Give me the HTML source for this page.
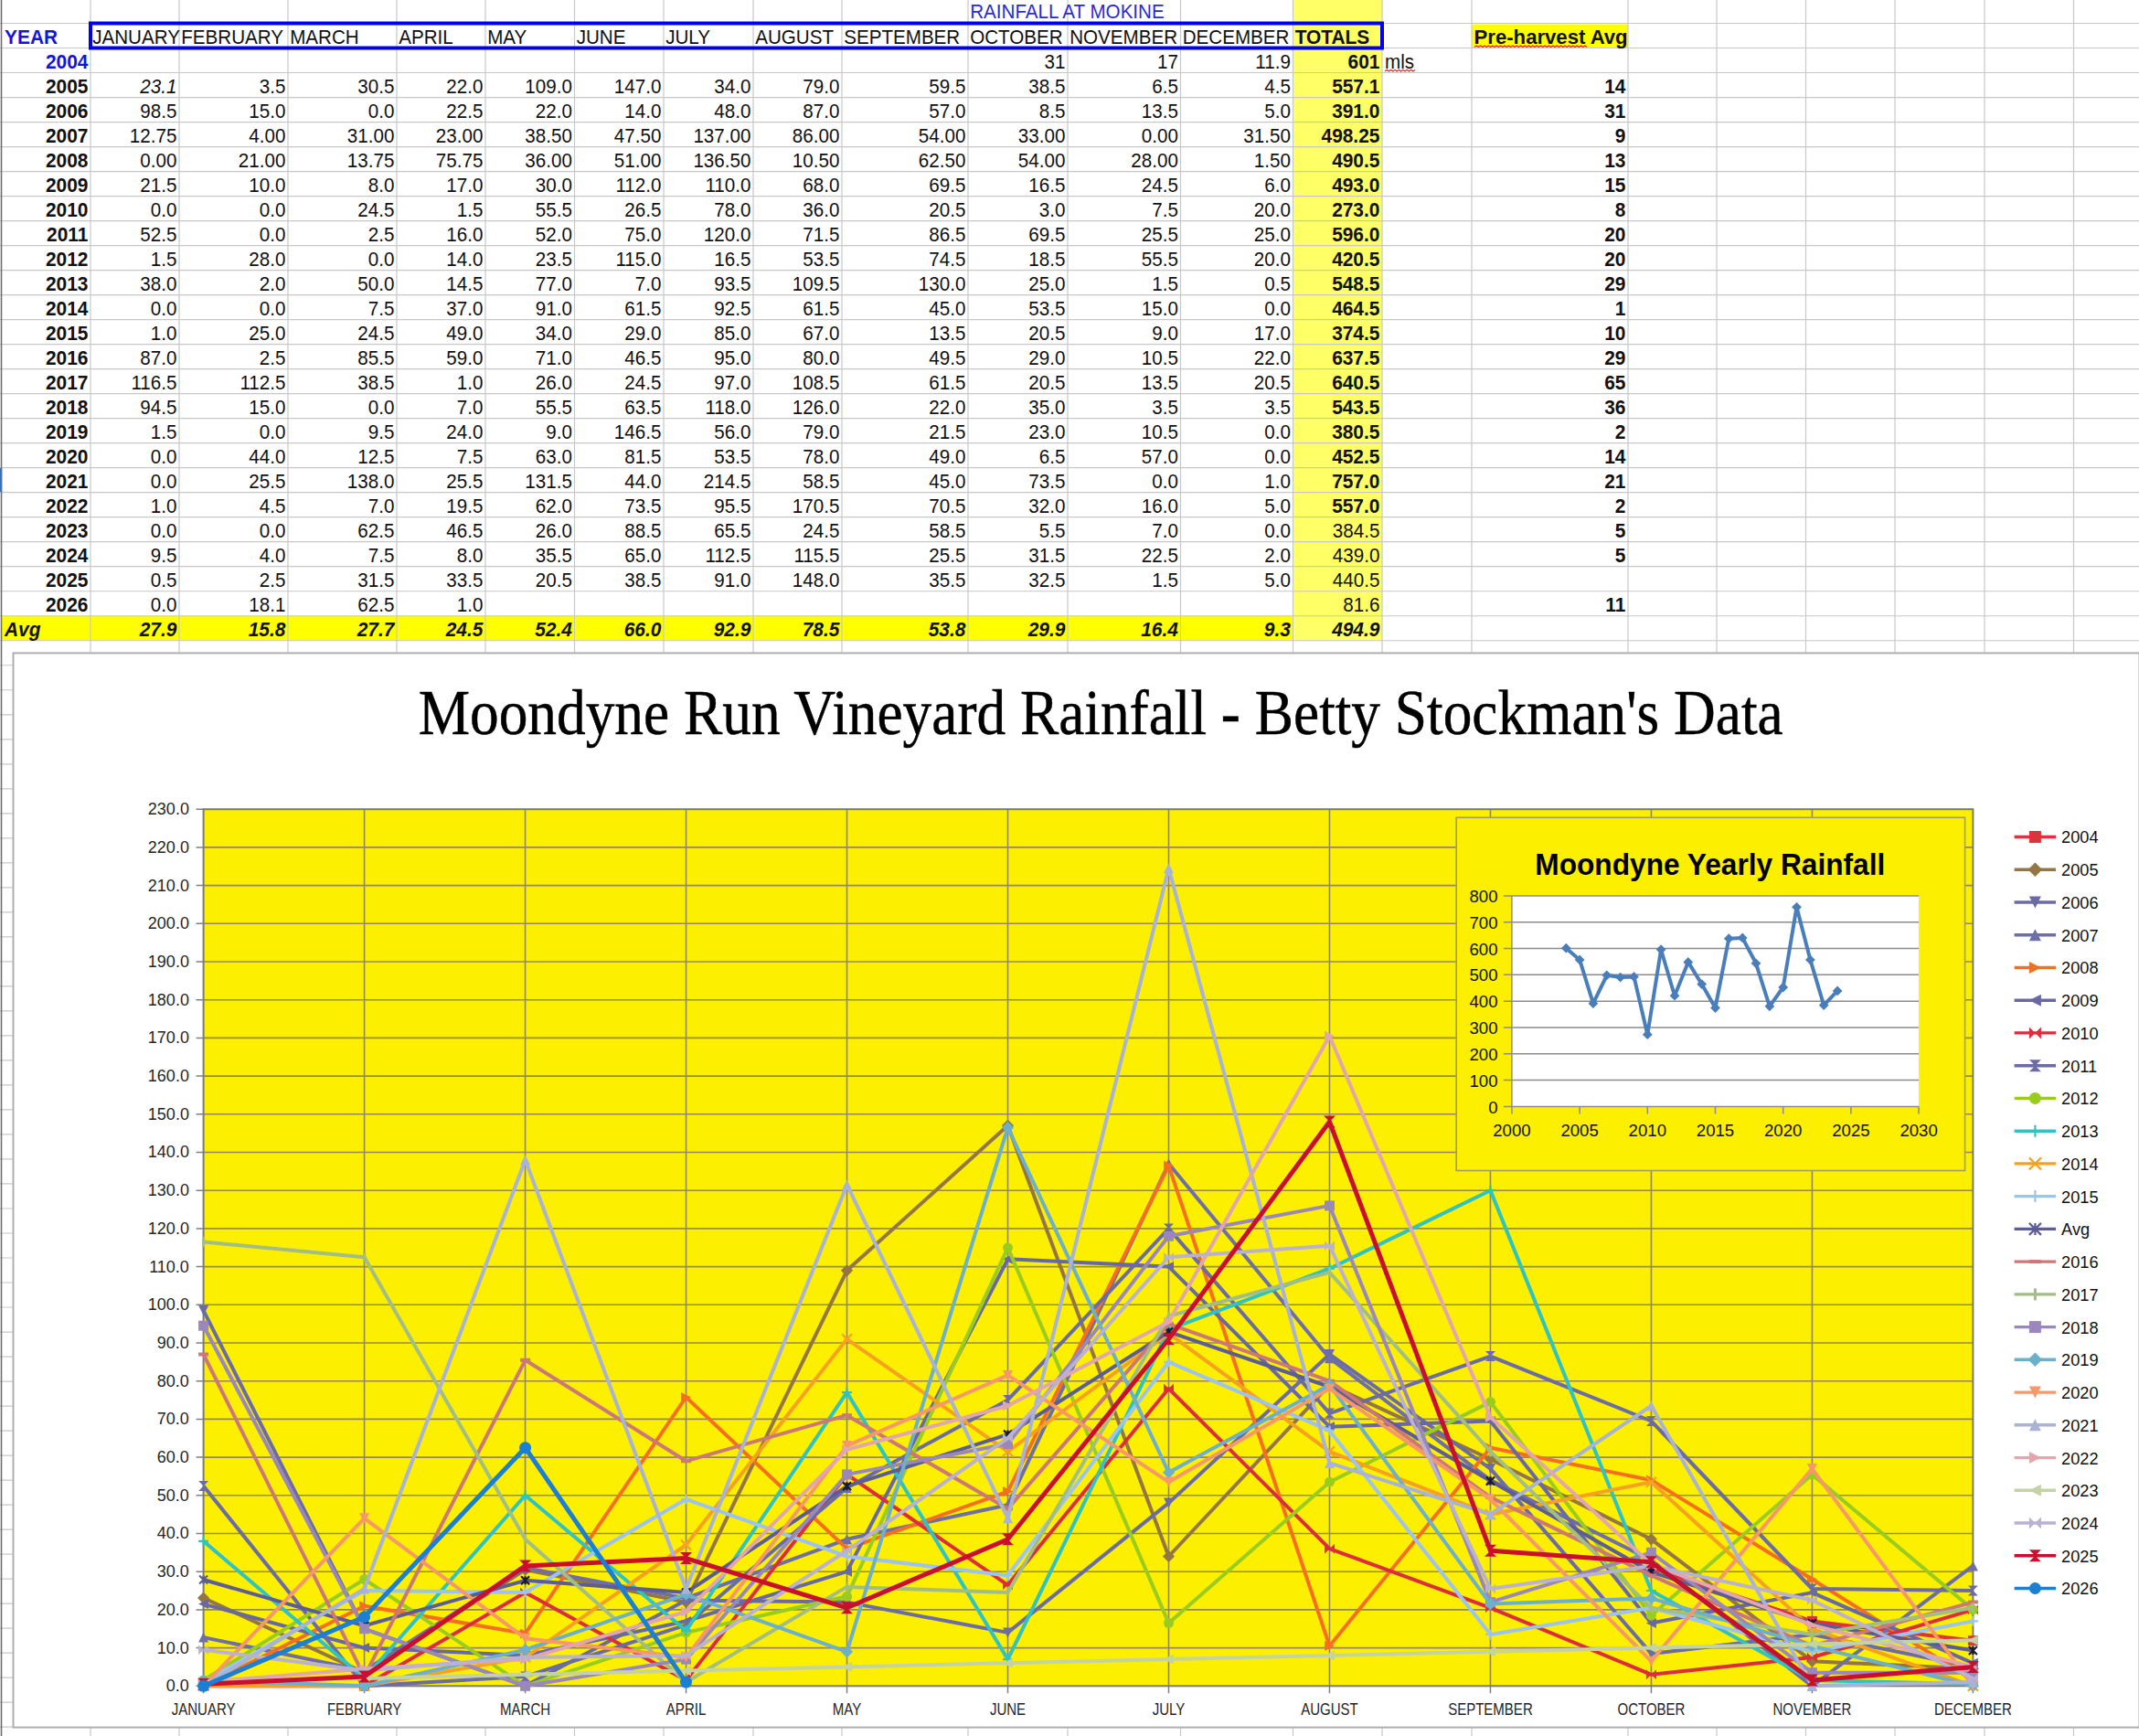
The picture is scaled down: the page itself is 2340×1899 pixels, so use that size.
<!DOCTYPE html>
<html><head><meta charset="utf-8"><title>Rainfall</title>
<style>html,body{margin:0;padding:0;background:#fff;width:2340px;height:1899px;overflow:hidden;position:relative}</style>
</head><body>
<svg width="2340" height="1899" viewBox="0 0 2340 1899" style="position:absolute;left:0;top:0">
<rect x="1414.5" y="0" width="97.5" height="700.75" fill="#ffff66"/>
<rect x="1.5" y="673.74" width="1413.0" height="27.01" fill="#ffff00"/>
<rect x="1610" y="26.5" width="171" height="26.01" fill="#ffff00"/>
<rect x="0" y="511.68" width="2.2" height="27.01" fill="#1a6fd8"/>
<path d="M0 25.50H2340 M0 52.51H2340 M0 79.52H2340 M0 106.53H2340 M0 133.54H2340 M0 160.55H2340 M0 187.56H2340 M0 214.57H2340 M0 241.58H2340 M0 268.59H2340 M0 295.60H2340 M0 322.61H2340 M0 349.62H2340 M0 376.63H2340 M0 403.64H2340 M0 430.65H2340 M0 457.66H2340 M0 484.67H2340 M0 511.68H2340 M0 538.69H2340 M0 565.70H2340 M0 592.71H2340 M0 619.72H2340 M0 646.73H2340 M0 673.74H2340 M0 700.75H2340 M0 727.76H2340 M0 754.77H2340 M0 781.78H2340 M0 808.79H2340 M0 835.80H2340 M0 862.81H2340 M0 889.82H2340 M0 916.83H2340 M0 943.84H2340 M0 970.85H2340 M0 997.86H2340 M0 1024.87H2340 M0 1051.88H2340 M0 1078.89H2340 M0 1105.90H2340 M0 1132.91H2340 M0 1159.92H2340 M0 1186.93H2340 M0 1213.94H2340 M0 1240.95H2340 M0 1267.96H2340 M0 1294.97H2340 M0 1321.98H2340 M0 1348.99H2340 M0 1376.00H2340 M0 1403.01H2340 M0 1430.02H2340 M0 1457.03H2340 M0 1484.04H2340 M0 1511.05H2340 M0 1538.06H2340 M0 1565.07H2340 M0 1592.08H2340 M0 1619.09H2340 M0 1646.10H2340 M0 1673.11H2340 M0 1700.12H2340 M0 1727.13H2340 M0 1754.14H2340 M0 1781.15H2340 M0 1808.16H2340 M0 1835.17H2340 M0 1862.18H2340 M0 1889.19H2340 M99 0V1899 M196 0V1899 M315 0V1899 M434 0V1899 M531 0V1899 M628.5 0V1899 M726 0V1899 M824 0V1899 M921 0V1899 M1059 0V1899 M1168 0V1899 M1291.5 0V1899 M1414.5 0V1899 M1512 0V1899 M1610 0V1899 M1781 0V1899 M1878 0V1899 M1975.5 0V1899 M2073 0V1899 M2171 0V1899 M2268.5 0V1899" stroke="#c8c8c8" stroke-width="1.2" fill="none"/>
<path d="M1.5 0V1899" stroke="#707070" stroke-width="1.6"/>
<g font-family='"Liberation Sans", sans-serif'>
<text transform="translate(1061.20,20.40) scale(1,1.07)" text-anchor="start" font-weight="normal" font-style="normal" fill="#2b2bd6" font-size="20.6" >RAINFALL AT MOKINE</text>
<text transform="translate(5.10,47.51) scale(1,1.07)" text-anchor="start" font-weight="bold" font-style="normal" fill="#1414e0" font-size="20.9" >YEAR</text>
<text transform="translate(101.20,47.51) scale(1,1.07)" text-anchor="start" font-weight="normal" font-style="normal" fill="#111" font-size="20.6" >JANUARY</text>
<text transform="translate(198.20,47.51) scale(1,1.07)" text-anchor="start" font-weight="normal" font-style="normal" fill="#111" font-size="20.6" >FEBRUARY</text>
<text transform="translate(317.20,47.51) scale(1,1.07)" text-anchor="start" font-weight="normal" font-style="normal" fill="#111" font-size="20.6" >MARCH</text>
<text transform="translate(436.20,47.51) scale(1,1.07)" text-anchor="start" font-weight="normal" font-style="normal" fill="#111" font-size="20.6" >APRIL</text>
<text transform="translate(533.20,47.51) scale(1,1.07)" text-anchor="start" font-weight="normal" font-style="normal" fill="#111" font-size="20.6" >MAY</text>
<text transform="translate(630.70,47.51) scale(1,1.07)" text-anchor="start" font-weight="normal" font-style="normal" fill="#111" font-size="20.6" >JUNE</text>
<text transform="translate(728.20,47.51) scale(1,1.07)" text-anchor="start" font-weight="normal" font-style="normal" fill="#111" font-size="20.6" >JULY</text>
<text transform="translate(826.20,47.51) scale(1,1.07)" text-anchor="start" font-weight="normal" font-style="normal" fill="#111" font-size="20.6" >AUGUST</text>
<text transform="translate(923.20,47.51) scale(1,1.07)" text-anchor="start" font-weight="normal" font-style="normal" fill="#111" font-size="20.6" >SEPTEMBER</text>
<text transform="translate(1061.20,47.51) scale(1,1.07)" text-anchor="start" font-weight="normal" font-style="normal" fill="#111" font-size="20.6" >OCTOBER</text>
<text transform="translate(1170.20,47.51) scale(1,1.07)" text-anchor="start" font-weight="normal" font-style="normal" fill="#111" font-size="20.6" >NOVEMBER</text>
<text transform="translate(1293.70,47.51) scale(1,1.07)" text-anchor="start" font-weight="normal" font-style="normal" fill="#111" font-size="20.6" >DECEMBER</text>
<text transform="translate(1416.70,47.51) scale(1,1.07)" text-anchor="start" font-weight="bold" font-style="normal" fill="#111" font-size="20.9" >TOTALS</text>
<text transform="translate(1612.60,47.51) scale(1,1.07)" text-anchor="start" font-weight="bold" font-style="normal" fill="#111" font-size="20.9" textLength="168" lengthAdjust="spacingAndGlyphs">Pre-harvest Avg</text>
<text transform="translate(96.40,74.52) scale(1,1.07)" text-anchor="end" font-weight="bold" font-style="normal" fill="#1414e0" font-size="20.9" >2004</text>
<text transform="translate(1165.40,74.52) scale(1,1.07)" text-anchor="end" font-weight="normal" font-style="normal" fill="#111" font-size="20.6" >31</text>
<text transform="translate(1288.90,74.52) scale(1,1.07)" text-anchor="end" font-weight="normal" font-style="normal" fill="#111" font-size="20.6" >17</text>
<text transform="translate(1411.90,74.52) scale(1,1.07)" text-anchor="end" font-weight="normal" font-style="normal" fill="#111" font-size="20.6" >11.9</text>
<text transform="translate(1509.40,74.52) scale(1,1.07)" text-anchor="end" font-weight="bold" font-style="normal" fill="#111" font-size="20.9" >601</text>
<text transform="translate(96.40,101.53) scale(1,1.07)" text-anchor="end" font-weight="bold" font-style="normal" fill="#111" font-size="20.9" >2005</text>
<text transform="translate(193.40,101.53) scale(1,1.07)" text-anchor="end" font-weight="normal" font-style="italic" fill="#111" font-size="20.6" >23.1</text>
<text transform="translate(312.40,101.53) scale(1,1.07)" text-anchor="end" font-weight="normal" font-style="normal" fill="#111" font-size="20.6" >3.5</text>
<text transform="translate(431.40,101.53) scale(1,1.07)" text-anchor="end" font-weight="normal" font-style="normal" fill="#111" font-size="20.6" >30.5</text>
<text transform="translate(528.40,101.53) scale(1,1.07)" text-anchor="end" font-weight="normal" font-style="normal" fill="#111" font-size="20.6" >22.0</text>
<text transform="translate(625.90,101.53) scale(1,1.07)" text-anchor="end" font-weight="normal" font-style="normal" fill="#111" font-size="20.6" >109.0</text>
<text transform="translate(723.40,101.53) scale(1,1.07)" text-anchor="end" font-weight="normal" font-style="normal" fill="#111" font-size="20.6" >147.0</text>
<text transform="translate(821.40,101.53) scale(1,1.07)" text-anchor="end" font-weight="normal" font-style="normal" fill="#111" font-size="20.6" >34.0</text>
<text transform="translate(918.40,101.53) scale(1,1.07)" text-anchor="end" font-weight="normal" font-style="normal" fill="#111" font-size="20.6" >79.0</text>
<text transform="translate(1056.40,101.53) scale(1,1.07)" text-anchor="end" font-weight="normal" font-style="normal" fill="#111" font-size="20.6" >59.5</text>
<text transform="translate(1165.40,101.53) scale(1,1.07)" text-anchor="end" font-weight="normal" font-style="normal" fill="#111" font-size="20.6" >38.5</text>
<text transform="translate(1288.90,101.53) scale(1,1.07)" text-anchor="end" font-weight="normal" font-style="normal" fill="#111" font-size="20.6" >6.5</text>
<text transform="translate(1411.90,101.53) scale(1,1.07)" text-anchor="end" font-weight="normal" font-style="normal" fill="#111" font-size="20.6" >4.5</text>
<text transform="translate(1509.40,101.53) scale(1,1.07)" text-anchor="end" font-weight="bold" font-style="normal" fill="#111" font-size="20.9" >557.1</text>
<text transform="translate(1778.40,101.53) scale(1,1.07)" text-anchor="end" font-weight="bold" font-style="normal" fill="#111" font-size="20.9" >14</text>
<text transform="translate(96.40,128.54) scale(1,1.07)" text-anchor="end" font-weight="bold" font-style="normal" fill="#111" font-size="20.9" >2006</text>
<text transform="translate(193.40,128.54) scale(1,1.07)" text-anchor="end" font-weight="normal" font-style="normal" fill="#111" font-size="20.6" >98.5</text>
<text transform="translate(312.40,128.54) scale(1,1.07)" text-anchor="end" font-weight="normal" font-style="normal" fill="#111" font-size="20.6" >15.0</text>
<text transform="translate(431.40,128.54) scale(1,1.07)" text-anchor="end" font-weight="normal" font-style="normal" fill="#111" font-size="20.6" >0.0</text>
<text transform="translate(528.40,128.54) scale(1,1.07)" text-anchor="end" font-weight="normal" font-style="normal" fill="#111" font-size="20.6" >22.5</text>
<text transform="translate(625.90,128.54) scale(1,1.07)" text-anchor="end" font-weight="normal" font-style="normal" fill="#111" font-size="20.6" >22.0</text>
<text transform="translate(723.40,128.54) scale(1,1.07)" text-anchor="end" font-weight="normal" font-style="normal" fill="#111" font-size="20.6" >14.0</text>
<text transform="translate(821.40,128.54) scale(1,1.07)" text-anchor="end" font-weight="normal" font-style="normal" fill="#111" font-size="20.6" >48.0</text>
<text transform="translate(918.40,128.54) scale(1,1.07)" text-anchor="end" font-weight="normal" font-style="normal" fill="#111" font-size="20.6" >87.0</text>
<text transform="translate(1056.40,128.54) scale(1,1.07)" text-anchor="end" font-weight="normal" font-style="normal" fill="#111" font-size="20.6" >57.0</text>
<text transform="translate(1165.40,128.54) scale(1,1.07)" text-anchor="end" font-weight="normal" font-style="normal" fill="#111" font-size="20.6" >8.5</text>
<text transform="translate(1288.90,128.54) scale(1,1.07)" text-anchor="end" font-weight="normal" font-style="normal" fill="#111" font-size="20.6" >13.5</text>
<text transform="translate(1411.90,128.54) scale(1,1.07)" text-anchor="end" font-weight="normal" font-style="normal" fill="#111" font-size="20.6" >5.0</text>
<text transform="translate(1509.40,128.54) scale(1,1.07)" text-anchor="end" font-weight="bold" font-style="normal" fill="#111" font-size="20.9" >391.0</text>
<text transform="translate(1778.40,128.54) scale(1,1.07)" text-anchor="end" font-weight="bold" font-style="normal" fill="#111" font-size="20.9" >31</text>
<text transform="translate(96.40,155.55) scale(1,1.07)" text-anchor="end" font-weight="bold" font-style="normal" fill="#111" font-size="20.9" >2007</text>
<text transform="translate(193.40,155.55) scale(1,1.07)" text-anchor="end" font-weight="normal" font-style="normal" fill="#111" font-size="20.6" >12.75</text>
<text transform="translate(312.40,155.55) scale(1,1.07)" text-anchor="end" font-weight="normal" font-style="normal" fill="#111" font-size="20.6" >4.00</text>
<text transform="translate(431.40,155.55) scale(1,1.07)" text-anchor="end" font-weight="normal" font-style="normal" fill="#111" font-size="20.6" >31.00</text>
<text transform="translate(528.40,155.55) scale(1,1.07)" text-anchor="end" font-weight="normal" font-style="normal" fill="#111" font-size="20.6" >23.00</text>
<text transform="translate(625.90,155.55) scale(1,1.07)" text-anchor="end" font-weight="normal" font-style="normal" fill="#111" font-size="20.6" >38.50</text>
<text transform="translate(723.40,155.55) scale(1,1.07)" text-anchor="end" font-weight="normal" font-style="normal" fill="#111" font-size="20.6" >47.50</text>
<text transform="translate(821.40,155.55) scale(1,1.07)" text-anchor="end" font-weight="normal" font-style="normal" fill="#111" font-size="20.6" >137.00</text>
<text transform="translate(918.40,155.55) scale(1,1.07)" text-anchor="end" font-weight="normal" font-style="normal" fill="#111" font-size="20.6" >86.00</text>
<text transform="translate(1056.40,155.55) scale(1,1.07)" text-anchor="end" font-weight="normal" font-style="normal" fill="#111" font-size="20.6" >54.00</text>
<text transform="translate(1165.40,155.55) scale(1,1.07)" text-anchor="end" font-weight="normal" font-style="normal" fill="#111" font-size="20.6" >33.00</text>
<text transform="translate(1288.90,155.55) scale(1,1.07)" text-anchor="end" font-weight="normal" font-style="normal" fill="#111" font-size="20.6" >0.00</text>
<text transform="translate(1411.90,155.55) scale(1,1.07)" text-anchor="end" font-weight="normal" font-style="normal" fill="#111" font-size="20.6" >31.50</text>
<text transform="translate(1509.40,155.55) scale(1,1.07)" text-anchor="end" font-weight="bold" font-style="normal" fill="#111" font-size="20.9" >498.25</text>
<text transform="translate(1778.40,155.55) scale(1,1.07)" text-anchor="end" font-weight="bold" font-style="normal" fill="#111" font-size="20.9" >9</text>
<text transform="translate(96.40,182.56) scale(1,1.07)" text-anchor="end" font-weight="bold" font-style="normal" fill="#111" font-size="20.9" >2008</text>
<text transform="translate(193.40,182.56) scale(1,1.07)" text-anchor="end" font-weight="normal" font-style="normal" fill="#111" font-size="20.6" >0.00</text>
<text transform="translate(312.40,182.56) scale(1,1.07)" text-anchor="end" font-weight="normal" font-style="normal" fill="#111" font-size="20.6" >21.00</text>
<text transform="translate(431.40,182.56) scale(1,1.07)" text-anchor="end" font-weight="normal" font-style="normal" fill="#111" font-size="20.6" >13.75</text>
<text transform="translate(528.40,182.56) scale(1,1.07)" text-anchor="end" font-weight="normal" font-style="normal" fill="#111" font-size="20.6" >75.75</text>
<text transform="translate(625.90,182.56) scale(1,1.07)" text-anchor="end" font-weight="normal" font-style="normal" fill="#111" font-size="20.6" >36.00</text>
<text transform="translate(723.40,182.56) scale(1,1.07)" text-anchor="end" font-weight="normal" font-style="normal" fill="#111" font-size="20.6" >51.00</text>
<text transform="translate(821.40,182.56) scale(1,1.07)" text-anchor="end" font-weight="normal" font-style="normal" fill="#111" font-size="20.6" >136.50</text>
<text transform="translate(918.40,182.56) scale(1,1.07)" text-anchor="end" font-weight="normal" font-style="normal" fill="#111" font-size="20.6" >10.50</text>
<text transform="translate(1056.40,182.56) scale(1,1.07)" text-anchor="end" font-weight="normal" font-style="normal" fill="#111" font-size="20.6" >62.50</text>
<text transform="translate(1165.40,182.56) scale(1,1.07)" text-anchor="end" font-weight="normal" font-style="normal" fill="#111" font-size="20.6" >54.00</text>
<text transform="translate(1288.90,182.56) scale(1,1.07)" text-anchor="end" font-weight="normal" font-style="normal" fill="#111" font-size="20.6" >28.00</text>
<text transform="translate(1411.90,182.56) scale(1,1.07)" text-anchor="end" font-weight="normal" font-style="normal" fill="#111" font-size="20.6" >1.50</text>
<text transform="translate(1509.40,182.56) scale(1,1.07)" text-anchor="end" font-weight="bold" font-style="normal" fill="#111" font-size="20.9" >490.5</text>
<text transform="translate(1778.40,182.56) scale(1,1.07)" text-anchor="end" font-weight="bold" font-style="normal" fill="#111" font-size="20.9" >13</text>
<text transform="translate(96.40,209.57) scale(1,1.07)" text-anchor="end" font-weight="bold" font-style="normal" fill="#111" font-size="20.9" >2009</text>
<text transform="translate(193.40,209.57) scale(1,1.07)" text-anchor="end" font-weight="normal" font-style="normal" fill="#111" font-size="20.6" >21.5</text>
<text transform="translate(312.40,209.57) scale(1,1.07)" text-anchor="end" font-weight="normal" font-style="normal" fill="#111" font-size="20.6" >10.0</text>
<text transform="translate(431.40,209.57) scale(1,1.07)" text-anchor="end" font-weight="normal" font-style="normal" fill="#111" font-size="20.6" >8.0</text>
<text transform="translate(528.40,209.57) scale(1,1.07)" text-anchor="end" font-weight="normal" font-style="normal" fill="#111" font-size="20.6" >17.0</text>
<text transform="translate(625.90,209.57) scale(1,1.07)" text-anchor="end" font-weight="normal" font-style="normal" fill="#111" font-size="20.6" >30.0</text>
<text transform="translate(723.40,209.57) scale(1,1.07)" text-anchor="end" font-weight="normal" font-style="normal" fill="#111" font-size="20.6" >112.0</text>
<text transform="translate(821.40,209.57) scale(1,1.07)" text-anchor="end" font-weight="normal" font-style="normal" fill="#111" font-size="20.6" >110.0</text>
<text transform="translate(918.40,209.57) scale(1,1.07)" text-anchor="end" font-weight="normal" font-style="normal" fill="#111" font-size="20.6" >68.0</text>
<text transform="translate(1056.40,209.57) scale(1,1.07)" text-anchor="end" font-weight="normal" font-style="normal" fill="#111" font-size="20.6" >69.5</text>
<text transform="translate(1165.40,209.57) scale(1,1.07)" text-anchor="end" font-weight="normal" font-style="normal" fill="#111" font-size="20.6" >16.5</text>
<text transform="translate(1288.90,209.57) scale(1,1.07)" text-anchor="end" font-weight="normal" font-style="normal" fill="#111" font-size="20.6" >24.5</text>
<text transform="translate(1411.90,209.57) scale(1,1.07)" text-anchor="end" font-weight="normal" font-style="normal" fill="#111" font-size="20.6" >6.0</text>
<text transform="translate(1509.40,209.57) scale(1,1.07)" text-anchor="end" font-weight="bold" font-style="normal" fill="#111" font-size="20.9" >493.0</text>
<text transform="translate(1778.40,209.57) scale(1,1.07)" text-anchor="end" font-weight="bold" font-style="normal" fill="#111" font-size="20.9" >15</text>
<text transform="translate(96.40,236.58) scale(1,1.07)" text-anchor="end" font-weight="bold" font-style="normal" fill="#111" font-size="20.9" >2010</text>
<text transform="translate(193.40,236.58) scale(1,1.07)" text-anchor="end" font-weight="normal" font-style="normal" fill="#111" font-size="20.6" >0.0</text>
<text transform="translate(312.40,236.58) scale(1,1.07)" text-anchor="end" font-weight="normal" font-style="normal" fill="#111" font-size="20.6" >0.0</text>
<text transform="translate(431.40,236.58) scale(1,1.07)" text-anchor="end" font-weight="normal" font-style="normal" fill="#111" font-size="20.6" >24.5</text>
<text transform="translate(528.40,236.58) scale(1,1.07)" text-anchor="end" font-weight="normal" font-style="normal" fill="#111" font-size="20.6" >1.5</text>
<text transform="translate(625.90,236.58) scale(1,1.07)" text-anchor="end" font-weight="normal" font-style="normal" fill="#111" font-size="20.6" >55.5</text>
<text transform="translate(723.40,236.58) scale(1,1.07)" text-anchor="end" font-weight="normal" font-style="normal" fill="#111" font-size="20.6" >26.5</text>
<text transform="translate(821.40,236.58) scale(1,1.07)" text-anchor="end" font-weight="normal" font-style="normal" fill="#111" font-size="20.6" >78.0</text>
<text transform="translate(918.40,236.58) scale(1,1.07)" text-anchor="end" font-weight="normal" font-style="normal" fill="#111" font-size="20.6" >36.0</text>
<text transform="translate(1056.40,236.58) scale(1,1.07)" text-anchor="end" font-weight="normal" font-style="normal" fill="#111" font-size="20.6" >20.5</text>
<text transform="translate(1165.40,236.58) scale(1,1.07)" text-anchor="end" font-weight="normal" font-style="normal" fill="#111" font-size="20.6" >3.0</text>
<text transform="translate(1288.90,236.58) scale(1,1.07)" text-anchor="end" font-weight="normal" font-style="normal" fill="#111" font-size="20.6" >7.5</text>
<text transform="translate(1411.90,236.58) scale(1,1.07)" text-anchor="end" font-weight="normal" font-style="normal" fill="#111" font-size="20.6" >20.0</text>
<text transform="translate(1509.40,236.58) scale(1,1.07)" text-anchor="end" font-weight="bold" font-style="normal" fill="#111" font-size="20.9" >273.0</text>
<text transform="translate(1778.40,236.58) scale(1,1.07)" text-anchor="end" font-weight="bold" font-style="normal" fill="#111" font-size="20.9" >8</text>
<text transform="translate(96.40,263.59) scale(1,1.07)" text-anchor="end" font-weight="bold" font-style="normal" fill="#111" font-size="20.9" >2011</text>
<text transform="translate(193.40,263.59) scale(1,1.07)" text-anchor="end" font-weight="normal" font-style="normal" fill="#111" font-size="20.6" >52.5</text>
<text transform="translate(312.40,263.59) scale(1,1.07)" text-anchor="end" font-weight="normal" font-style="normal" fill="#111" font-size="20.6" >0.0</text>
<text transform="translate(431.40,263.59) scale(1,1.07)" text-anchor="end" font-weight="normal" font-style="normal" fill="#111" font-size="20.6" >2.5</text>
<text transform="translate(528.40,263.59) scale(1,1.07)" text-anchor="end" font-weight="normal" font-style="normal" fill="#111" font-size="20.6" >16.0</text>
<text transform="translate(625.90,263.59) scale(1,1.07)" text-anchor="end" font-weight="normal" font-style="normal" fill="#111" font-size="20.6" >52.0</text>
<text transform="translate(723.40,263.59) scale(1,1.07)" text-anchor="end" font-weight="normal" font-style="normal" fill="#111" font-size="20.6" >75.0</text>
<text transform="translate(821.40,263.59) scale(1,1.07)" text-anchor="end" font-weight="normal" font-style="normal" fill="#111" font-size="20.6" >120.0</text>
<text transform="translate(918.40,263.59) scale(1,1.07)" text-anchor="end" font-weight="normal" font-style="normal" fill="#111" font-size="20.6" >71.5</text>
<text transform="translate(1056.40,263.59) scale(1,1.07)" text-anchor="end" font-weight="normal" font-style="normal" fill="#111" font-size="20.6" >86.5</text>
<text transform="translate(1165.40,263.59) scale(1,1.07)" text-anchor="end" font-weight="normal" font-style="normal" fill="#111" font-size="20.6" >69.5</text>
<text transform="translate(1288.90,263.59) scale(1,1.07)" text-anchor="end" font-weight="normal" font-style="normal" fill="#111" font-size="20.6" >25.5</text>
<text transform="translate(1411.90,263.59) scale(1,1.07)" text-anchor="end" font-weight="normal" font-style="normal" fill="#111" font-size="20.6" >25.0</text>
<text transform="translate(1509.40,263.59) scale(1,1.07)" text-anchor="end" font-weight="bold" font-style="normal" fill="#111" font-size="20.9" >596.0</text>
<text transform="translate(1778.40,263.59) scale(1,1.07)" text-anchor="end" font-weight="bold" font-style="normal" fill="#111" font-size="20.9" >20</text>
<text transform="translate(96.40,290.60) scale(1,1.07)" text-anchor="end" font-weight="bold" font-style="normal" fill="#111" font-size="20.9" >2012</text>
<text transform="translate(193.40,290.60) scale(1,1.07)" text-anchor="end" font-weight="normal" font-style="normal" fill="#111" font-size="20.6" >1.5</text>
<text transform="translate(312.40,290.60) scale(1,1.07)" text-anchor="end" font-weight="normal" font-style="normal" fill="#111" font-size="20.6" >28.0</text>
<text transform="translate(431.40,290.60) scale(1,1.07)" text-anchor="end" font-weight="normal" font-style="normal" fill="#111" font-size="20.6" >0.0</text>
<text transform="translate(528.40,290.60) scale(1,1.07)" text-anchor="end" font-weight="normal" font-style="normal" fill="#111" font-size="20.6" >14.0</text>
<text transform="translate(625.90,290.60) scale(1,1.07)" text-anchor="end" font-weight="normal" font-style="normal" fill="#111" font-size="20.6" >23.5</text>
<text transform="translate(723.40,290.60) scale(1,1.07)" text-anchor="end" font-weight="normal" font-style="normal" fill="#111" font-size="20.6" >115.0</text>
<text transform="translate(821.40,290.60) scale(1,1.07)" text-anchor="end" font-weight="normal" font-style="normal" fill="#111" font-size="20.6" >16.5</text>
<text transform="translate(918.40,290.60) scale(1,1.07)" text-anchor="end" font-weight="normal" font-style="normal" fill="#111" font-size="20.6" >53.5</text>
<text transform="translate(1056.40,290.60) scale(1,1.07)" text-anchor="end" font-weight="normal" font-style="normal" fill="#111" font-size="20.6" >74.5</text>
<text transform="translate(1165.40,290.60) scale(1,1.07)" text-anchor="end" font-weight="normal" font-style="normal" fill="#111" font-size="20.6" >18.5</text>
<text transform="translate(1288.90,290.60) scale(1,1.07)" text-anchor="end" font-weight="normal" font-style="normal" fill="#111" font-size="20.6" >55.5</text>
<text transform="translate(1411.90,290.60) scale(1,1.07)" text-anchor="end" font-weight="normal" font-style="normal" fill="#111" font-size="20.6" >20.0</text>
<text transform="translate(1509.40,290.60) scale(1,1.07)" text-anchor="end" font-weight="bold" font-style="normal" fill="#111" font-size="20.9" >420.5</text>
<text transform="translate(1778.40,290.60) scale(1,1.07)" text-anchor="end" font-weight="bold" font-style="normal" fill="#111" font-size="20.9" >20</text>
<text transform="translate(96.40,317.61) scale(1,1.07)" text-anchor="end" font-weight="bold" font-style="normal" fill="#111" font-size="20.9" >2013</text>
<text transform="translate(193.40,317.61) scale(1,1.07)" text-anchor="end" font-weight="normal" font-style="normal" fill="#111" font-size="20.6" >38.0</text>
<text transform="translate(312.40,317.61) scale(1,1.07)" text-anchor="end" font-weight="normal" font-style="normal" fill="#111" font-size="20.6" >2.0</text>
<text transform="translate(431.40,317.61) scale(1,1.07)" text-anchor="end" font-weight="normal" font-style="normal" fill="#111" font-size="20.6" >50.0</text>
<text transform="translate(528.40,317.61) scale(1,1.07)" text-anchor="end" font-weight="normal" font-style="normal" fill="#111" font-size="20.6" >14.5</text>
<text transform="translate(625.90,317.61) scale(1,1.07)" text-anchor="end" font-weight="normal" font-style="normal" fill="#111" font-size="20.6" >77.0</text>
<text transform="translate(723.40,317.61) scale(1,1.07)" text-anchor="end" font-weight="normal" font-style="normal" fill="#111" font-size="20.6" >7.0</text>
<text transform="translate(821.40,317.61) scale(1,1.07)" text-anchor="end" font-weight="normal" font-style="normal" fill="#111" font-size="20.6" >93.5</text>
<text transform="translate(918.40,317.61) scale(1,1.07)" text-anchor="end" font-weight="normal" font-style="normal" fill="#111" font-size="20.6" >109.5</text>
<text transform="translate(1056.40,317.61) scale(1,1.07)" text-anchor="end" font-weight="normal" font-style="normal" fill="#111" font-size="20.6" >130.0</text>
<text transform="translate(1165.40,317.61) scale(1,1.07)" text-anchor="end" font-weight="normal" font-style="normal" fill="#111" font-size="20.6" >25.0</text>
<text transform="translate(1288.90,317.61) scale(1,1.07)" text-anchor="end" font-weight="normal" font-style="normal" fill="#111" font-size="20.6" >1.5</text>
<text transform="translate(1411.90,317.61) scale(1,1.07)" text-anchor="end" font-weight="normal" font-style="normal" fill="#111" font-size="20.6" >0.5</text>
<text transform="translate(1509.40,317.61) scale(1,1.07)" text-anchor="end" font-weight="bold" font-style="normal" fill="#111" font-size="20.9" >548.5</text>
<text transform="translate(1778.40,317.61) scale(1,1.07)" text-anchor="end" font-weight="bold" font-style="normal" fill="#111" font-size="20.9" >29</text>
<text transform="translate(96.40,344.62) scale(1,1.07)" text-anchor="end" font-weight="bold" font-style="normal" fill="#111" font-size="20.9" >2014</text>
<text transform="translate(193.40,344.62) scale(1,1.07)" text-anchor="end" font-weight="normal" font-style="normal" fill="#111" font-size="20.6" >0.0</text>
<text transform="translate(312.40,344.62) scale(1,1.07)" text-anchor="end" font-weight="normal" font-style="normal" fill="#111" font-size="20.6" >0.0</text>
<text transform="translate(431.40,344.62) scale(1,1.07)" text-anchor="end" font-weight="normal" font-style="normal" fill="#111" font-size="20.6" >7.5</text>
<text transform="translate(528.40,344.62) scale(1,1.07)" text-anchor="end" font-weight="normal" font-style="normal" fill="#111" font-size="20.6" >37.0</text>
<text transform="translate(625.90,344.62) scale(1,1.07)" text-anchor="end" font-weight="normal" font-style="normal" fill="#111" font-size="20.6" >91.0</text>
<text transform="translate(723.40,344.62) scale(1,1.07)" text-anchor="end" font-weight="normal" font-style="normal" fill="#111" font-size="20.6" >61.5</text>
<text transform="translate(821.40,344.62) scale(1,1.07)" text-anchor="end" font-weight="normal" font-style="normal" fill="#111" font-size="20.6" >92.5</text>
<text transform="translate(918.40,344.62) scale(1,1.07)" text-anchor="end" font-weight="normal" font-style="normal" fill="#111" font-size="20.6" >61.5</text>
<text transform="translate(1056.40,344.62) scale(1,1.07)" text-anchor="end" font-weight="normal" font-style="normal" fill="#111" font-size="20.6" >45.0</text>
<text transform="translate(1165.40,344.62) scale(1,1.07)" text-anchor="end" font-weight="normal" font-style="normal" fill="#111" font-size="20.6" >53.5</text>
<text transform="translate(1288.90,344.62) scale(1,1.07)" text-anchor="end" font-weight="normal" font-style="normal" fill="#111" font-size="20.6" >15.0</text>
<text transform="translate(1411.90,344.62) scale(1,1.07)" text-anchor="end" font-weight="normal" font-style="normal" fill="#111" font-size="20.6" >0.0</text>
<text transform="translate(1509.40,344.62) scale(1,1.07)" text-anchor="end" font-weight="bold" font-style="normal" fill="#111" font-size="20.9" >464.5</text>
<text transform="translate(1778.40,344.62) scale(1,1.07)" text-anchor="end" font-weight="bold" font-style="normal" fill="#111" font-size="20.9" >1</text>
<text transform="translate(96.40,371.63) scale(1,1.07)" text-anchor="end" font-weight="bold" font-style="normal" fill="#111" font-size="20.9" >2015</text>
<text transform="translate(193.40,371.63) scale(1,1.07)" text-anchor="end" font-weight="normal" font-style="normal" fill="#111" font-size="20.6" >1.0</text>
<text transform="translate(312.40,371.63) scale(1,1.07)" text-anchor="end" font-weight="normal" font-style="normal" fill="#111" font-size="20.6" >25.0</text>
<text transform="translate(431.40,371.63) scale(1,1.07)" text-anchor="end" font-weight="normal" font-style="normal" fill="#111" font-size="20.6" >24.5</text>
<text transform="translate(528.40,371.63) scale(1,1.07)" text-anchor="end" font-weight="normal" font-style="normal" fill="#111" font-size="20.6" >49.0</text>
<text transform="translate(625.90,371.63) scale(1,1.07)" text-anchor="end" font-weight="normal" font-style="normal" fill="#111" font-size="20.6" >34.0</text>
<text transform="translate(723.40,371.63) scale(1,1.07)" text-anchor="end" font-weight="normal" font-style="normal" fill="#111" font-size="20.6" >29.0</text>
<text transform="translate(821.40,371.63) scale(1,1.07)" text-anchor="end" font-weight="normal" font-style="normal" fill="#111" font-size="20.6" >85.0</text>
<text transform="translate(918.40,371.63) scale(1,1.07)" text-anchor="end" font-weight="normal" font-style="normal" fill="#111" font-size="20.6" >67.0</text>
<text transform="translate(1056.40,371.63) scale(1,1.07)" text-anchor="end" font-weight="normal" font-style="normal" fill="#111" font-size="20.6" >13.5</text>
<text transform="translate(1165.40,371.63) scale(1,1.07)" text-anchor="end" font-weight="normal" font-style="normal" fill="#111" font-size="20.6" >20.5</text>
<text transform="translate(1288.90,371.63) scale(1,1.07)" text-anchor="end" font-weight="normal" font-style="normal" fill="#111" font-size="20.6" >9.0</text>
<text transform="translate(1411.90,371.63) scale(1,1.07)" text-anchor="end" font-weight="normal" font-style="normal" fill="#111" font-size="20.6" >17.0</text>
<text transform="translate(1509.40,371.63) scale(1,1.07)" text-anchor="end" font-weight="bold" font-style="normal" fill="#111" font-size="20.9" >374.5</text>
<text transform="translate(1778.40,371.63) scale(1,1.07)" text-anchor="end" font-weight="bold" font-style="normal" fill="#111" font-size="20.9" >10</text>
<text transform="translate(96.40,398.64) scale(1,1.07)" text-anchor="end" font-weight="bold" font-style="normal" fill="#111" font-size="20.9" >2016</text>
<text transform="translate(193.40,398.64) scale(1,1.07)" text-anchor="end" font-weight="normal" font-style="normal" fill="#111" font-size="20.6" >87.0</text>
<text transform="translate(312.40,398.64) scale(1,1.07)" text-anchor="end" font-weight="normal" font-style="normal" fill="#111" font-size="20.6" >2.5</text>
<text transform="translate(431.40,398.64) scale(1,1.07)" text-anchor="end" font-weight="normal" font-style="normal" fill="#111" font-size="20.6" >85.5</text>
<text transform="translate(528.40,398.64) scale(1,1.07)" text-anchor="end" font-weight="normal" font-style="normal" fill="#111" font-size="20.6" >59.0</text>
<text transform="translate(625.90,398.64) scale(1,1.07)" text-anchor="end" font-weight="normal" font-style="normal" fill="#111" font-size="20.6" >71.0</text>
<text transform="translate(723.40,398.64) scale(1,1.07)" text-anchor="end" font-weight="normal" font-style="normal" fill="#111" font-size="20.6" >46.5</text>
<text transform="translate(821.40,398.64) scale(1,1.07)" text-anchor="end" font-weight="normal" font-style="normal" fill="#111" font-size="20.6" >95.0</text>
<text transform="translate(918.40,398.64) scale(1,1.07)" text-anchor="end" font-weight="normal" font-style="normal" fill="#111" font-size="20.6" >80.0</text>
<text transform="translate(1056.40,398.64) scale(1,1.07)" text-anchor="end" font-weight="normal" font-style="normal" fill="#111" font-size="20.6" >49.5</text>
<text transform="translate(1165.40,398.64) scale(1,1.07)" text-anchor="end" font-weight="normal" font-style="normal" fill="#111" font-size="20.6" >29.0</text>
<text transform="translate(1288.90,398.64) scale(1,1.07)" text-anchor="end" font-weight="normal" font-style="normal" fill="#111" font-size="20.6" >10.5</text>
<text transform="translate(1411.90,398.64) scale(1,1.07)" text-anchor="end" font-weight="normal" font-style="normal" fill="#111" font-size="20.6" >22.0</text>
<text transform="translate(1509.40,398.64) scale(1,1.07)" text-anchor="end" font-weight="bold" font-style="normal" fill="#111" font-size="20.9" >637.5</text>
<text transform="translate(1778.40,398.64) scale(1,1.07)" text-anchor="end" font-weight="bold" font-style="normal" fill="#111" font-size="20.9" >29</text>
<text transform="translate(96.40,425.65) scale(1,1.07)" text-anchor="end" font-weight="bold" font-style="normal" fill="#111" font-size="20.9" >2017</text>
<text transform="translate(193.40,425.65) scale(1,1.07)" text-anchor="end" font-weight="normal" font-style="normal" fill="#111" font-size="20.6" >116.5</text>
<text transform="translate(312.40,425.65) scale(1,1.07)" text-anchor="end" font-weight="normal" font-style="normal" fill="#111" font-size="20.6" >112.5</text>
<text transform="translate(431.40,425.65) scale(1,1.07)" text-anchor="end" font-weight="normal" font-style="normal" fill="#111" font-size="20.6" >38.5</text>
<text transform="translate(528.40,425.65) scale(1,1.07)" text-anchor="end" font-weight="normal" font-style="normal" fill="#111" font-size="20.6" >1.0</text>
<text transform="translate(625.90,425.65) scale(1,1.07)" text-anchor="end" font-weight="normal" font-style="normal" fill="#111" font-size="20.6" >26.0</text>
<text transform="translate(723.40,425.65) scale(1,1.07)" text-anchor="end" font-weight="normal" font-style="normal" fill="#111" font-size="20.6" >24.5</text>
<text transform="translate(821.40,425.65) scale(1,1.07)" text-anchor="end" font-weight="normal" font-style="normal" fill="#111" font-size="20.6" >97.0</text>
<text transform="translate(918.40,425.65) scale(1,1.07)" text-anchor="end" font-weight="normal" font-style="normal" fill="#111" font-size="20.6" >108.5</text>
<text transform="translate(1056.40,425.65) scale(1,1.07)" text-anchor="end" font-weight="normal" font-style="normal" fill="#111" font-size="20.6" >61.5</text>
<text transform="translate(1165.40,425.65) scale(1,1.07)" text-anchor="end" font-weight="normal" font-style="normal" fill="#111" font-size="20.6" >20.5</text>
<text transform="translate(1288.90,425.65) scale(1,1.07)" text-anchor="end" font-weight="normal" font-style="normal" fill="#111" font-size="20.6" >13.5</text>
<text transform="translate(1411.90,425.65) scale(1,1.07)" text-anchor="end" font-weight="normal" font-style="normal" fill="#111" font-size="20.6" >20.5</text>
<text transform="translate(1509.40,425.65) scale(1,1.07)" text-anchor="end" font-weight="bold" font-style="normal" fill="#111" font-size="20.9" >640.5</text>
<text transform="translate(1778.40,425.65) scale(1,1.07)" text-anchor="end" font-weight="bold" font-style="normal" fill="#111" font-size="20.9" >65</text>
<text transform="translate(96.40,452.66) scale(1,1.07)" text-anchor="end" font-weight="bold" font-style="normal" fill="#111" font-size="20.9" >2018</text>
<text transform="translate(193.40,452.66) scale(1,1.07)" text-anchor="end" font-weight="normal" font-style="normal" fill="#111" font-size="20.6" >94.5</text>
<text transform="translate(312.40,452.66) scale(1,1.07)" text-anchor="end" font-weight="normal" font-style="normal" fill="#111" font-size="20.6" >15.0</text>
<text transform="translate(431.40,452.66) scale(1,1.07)" text-anchor="end" font-weight="normal" font-style="normal" fill="#111" font-size="20.6" >0.0</text>
<text transform="translate(528.40,452.66) scale(1,1.07)" text-anchor="end" font-weight="normal" font-style="normal" fill="#111" font-size="20.6" >7.0</text>
<text transform="translate(625.90,452.66) scale(1,1.07)" text-anchor="end" font-weight="normal" font-style="normal" fill="#111" font-size="20.6" >55.5</text>
<text transform="translate(723.40,452.66) scale(1,1.07)" text-anchor="end" font-weight="normal" font-style="normal" fill="#111" font-size="20.6" >63.5</text>
<text transform="translate(821.40,452.66) scale(1,1.07)" text-anchor="end" font-weight="normal" font-style="normal" fill="#111" font-size="20.6" >118.0</text>
<text transform="translate(918.40,452.66) scale(1,1.07)" text-anchor="end" font-weight="normal" font-style="normal" fill="#111" font-size="20.6" >126.0</text>
<text transform="translate(1056.40,452.66) scale(1,1.07)" text-anchor="end" font-weight="normal" font-style="normal" fill="#111" font-size="20.6" >22.0</text>
<text transform="translate(1165.40,452.66) scale(1,1.07)" text-anchor="end" font-weight="normal" font-style="normal" fill="#111" font-size="20.6" >35.0</text>
<text transform="translate(1288.90,452.66) scale(1,1.07)" text-anchor="end" font-weight="normal" font-style="normal" fill="#111" font-size="20.6" >3.5</text>
<text transform="translate(1411.90,452.66) scale(1,1.07)" text-anchor="end" font-weight="normal" font-style="normal" fill="#111" font-size="20.6" >3.5</text>
<text transform="translate(1509.40,452.66) scale(1,1.07)" text-anchor="end" font-weight="bold" font-style="normal" fill="#111" font-size="20.9" >543.5</text>
<text transform="translate(1778.40,452.66) scale(1,1.07)" text-anchor="end" font-weight="bold" font-style="normal" fill="#111" font-size="20.9" >36</text>
<text transform="translate(96.40,479.67) scale(1,1.07)" text-anchor="end" font-weight="bold" font-style="normal" fill="#111" font-size="20.9" >2019</text>
<text transform="translate(193.40,479.67) scale(1,1.07)" text-anchor="end" font-weight="normal" font-style="normal" fill="#111" font-size="20.6" >1.5</text>
<text transform="translate(312.40,479.67) scale(1,1.07)" text-anchor="end" font-weight="normal" font-style="normal" fill="#111" font-size="20.6" >0.0</text>
<text transform="translate(431.40,479.67) scale(1,1.07)" text-anchor="end" font-weight="normal" font-style="normal" fill="#111" font-size="20.6" >9.5</text>
<text transform="translate(528.40,479.67) scale(1,1.07)" text-anchor="end" font-weight="normal" font-style="normal" fill="#111" font-size="20.6" >24.0</text>
<text transform="translate(625.90,479.67) scale(1,1.07)" text-anchor="end" font-weight="normal" font-style="normal" fill="#111" font-size="20.6" >9.0</text>
<text transform="translate(723.40,479.67) scale(1,1.07)" text-anchor="end" font-weight="normal" font-style="normal" fill="#111" font-size="20.6" >146.5</text>
<text transform="translate(821.40,479.67) scale(1,1.07)" text-anchor="end" font-weight="normal" font-style="normal" fill="#111" font-size="20.6" >56.0</text>
<text transform="translate(918.40,479.67) scale(1,1.07)" text-anchor="end" font-weight="normal" font-style="normal" fill="#111" font-size="20.6" >79.0</text>
<text transform="translate(1056.40,479.67) scale(1,1.07)" text-anchor="end" font-weight="normal" font-style="normal" fill="#111" font-size="20.6" >21.5</text>
<text transform="translate(1165.40,479.67) scale(1,1.07)" text-anchor="end" font-weight="normal" font-style="normal" fill="#111" font-size="20.6" >23.0</text>
<text transform="translate(1288.90,479.67) scale(1,1.07)" text-anchor="end" font-weight="normal" font-style="normal" fill="#111" font-size="20.6" >10.5</text>
<text transform="translate(1411.90,479.67) scale(1,1.07)" text-anchor="end" font-weight="normal" font-style="normal" fill="#111" font-size="20.6" >0.0</text>
<text transform="translate(1509.40,479.67) scale(1,1.07)" text-anchor="end" font-weight="bold" font-style="normal" fill="#111" font-size="20.9" >380.5</text>
<text transform="translate(1778.40,479.67) scale(1,1.07)" text-anchor="end" font-weight="bold" font-style="normal" fill="#111" font-size="20.9" >2</text>
<text transform="translate(96.40,506.68) scale(1,1.07)" text-anchor="end" font-weight="bold" font-style="normal" fill="#111" font-size="20.9" >2020</text>
<text transform="translate(193.40,506.68) scale(1,1.07)" text-anchor="end" font-weight="normal" font-style="normal" fill="#111" font-size="20.6" >0.0</text>
<text transform="translate(312.40,506.68) scale(1,1.07)" text-anchor="end" font-weight="normal" font-style="normal" fill="#111" font-size="20.6" >44.0</text>
<text transform="translate(431.40,506.68) scale(1,1.07)" text-anchor="end" font-weight="normal" font-style="normal" fill="#111" font-size="20.6" >12.5</text>
<text transform="translate(528.40,506.68) scale(1,1.07)" text-anchor="end" font-weight="normal" font-style="normal" fill="#111" font-size="20.6" >7.5</text>
<text transform="translate(625.90,506.68) scale(1,1.07)" text-anchor="end" font-weight="normal" font-style="normal" fill="#111" font-size="20.6" >63.0</text>
<text transform="translate(723.40,506.68) scale(1,1.07)" text-anchor="end" font-weight="normal" font-style="normal" fill="#111" font-size="20.6" >81.5</text>
<text transform="translate(821.40,506.68) scale(1,1.07)" text-anchor="end" font-weight="normal" font-style="normal" fill="#111" font-size="20.6" >53.5</text>
<text transform="translate(918.40,506.68) scale(1,1.07)" text-anchor="end" font-weight="normal" font-style="normal" fill="#111" font-size="20.6" >78.0</text>
<text transform="translate(1056.40,506.68) scale(1,1.07)" text-anchor="end" font-weight="normal" font-style="normal" fill="#111" font-size="20.6" >49.0</text>
<text transform="translate(1165.40,506.68) scale(1,1.07)" text-anchor="end" font-weight="normal" font-style="normal" fill="#111" font-size="20.6" >6.5</text>
<text transform="translate(1288.90,506.68) scale(1,1.07)" text-anchor="end" font-weight="normal" font-style="normal" fill="#111" font-size="20.6" >57.0</text>
<text transform="translate(1411.90,506.68) scale(1,1.07)" text-anchor="end" font-weight="normal" font-style="normal" fill="#111" font-size="20.6" >0.0</text>
<text transform="translate(1509.40,506.68) scale(1,1.07)" text-anchor="end" font-weight="bold" font-style="normal" fill="#111" font-size="20.9" >452.5</text>
<text transform="translate(1778.40,506.68) scale(1,1.07)" text-anchor="end" font-weight="bold" font-style="normal" fill="#111" font-size="20.9" >14</text>
<text transform="translate(96.40,533.69) scale(1,1.07)" text-anchor="end" font-weight="bold" font-style="normal" fill="#111" font-size="20.9" >2021</text>
<text transform="translate(193.40,533.69) scale(1,1.07)" text-anchor="end" font-weight="normal" font-style="normal" fill="#111" font-size="20.6" >0.0</text>
<text transform="translate(312.40,533.69) scale(1,1.07)" text-anchor="end" font-weight="normal" font-style="normal" fill="#111" font-size="20.6" >25.5</text>
<text transform="translate(431.40,533.69) scale(1,1.07)" text-anchor="end" font-weight="normal" font-style="normal" fill="#111" font-size="20.6" >138.0</text>
<text transform="translate(528.40,533.69) scale(1,1.07)" text-anchor="end" font-weight="normal" font-style="normal" fill="#111" font-size="20.6" >25.5</text>
<text transform="translate(625.90,533.69) scale(1,1.07)" text-anchor="end" font-weight="normal" font-style="normal" fill="#111" font-size="20.6" >131.5</text>
<text transform="translate(723.40,533.69) scale(1,1.07)" text-anchor="end" font-weight="normal" font-style="normal" fill="#111" font-size="20.6" >44.0</text>
<text transform="translate(821.40,533.69) scale(1,1.07)" text-anchor="end" font-weight="normal" font-style="normal" fill="#111" font-size="20.6" >214.5</text>
<text transform="translate(918.40,533.69) scale(1,1.07)" text-anchor="end" font-weight="normal" font-style="normal" fill="#111" font-size="20.6" >58.5</text>
<text transform="translate(1056.40,533.69) scale(1,1.07)" text-anchor="end" font-weight="normal" font-style="normal" fill="#111" font-size="20.6" >45.0</text>
<text transform="translate(1165.40,533.69) scale(1,1.07)" text-anchor="end" font-weight="normal" font-style="normal" fill="#111" font-size="20.6" >73.5</text>
<text transform="translate(1288.90,533.69) scale(1,1.07)" text-anchor="end" font-weight="normal" font-style="normal" fill="#111" font-size="20.6" >0.0</text>
<text transform="translate(1411.90,533.69) scale(1,1.07)" text-anchor="end" font-weight="normal" font-style="normal" fill="#111" font-size="20.6" >1.0</text>
<text transform="translate(1509.40,533.69) scale(1,1.07)" text-anchor="end" font-weight="bold" font-style="normal" fill="#111" font-size="20.9" >757.0</text>
<text transform="translate(1778.40,533.69) scale(1,1.07)" text-anchor="end" font-weight="bold" font-style="normal" fill="#111" font-size="20.9" >21</text>
<text transform="translate(96.40,560.70) scale(1,1.07)" text-anchor="end" font-weight="bold" font-style="normal" fill="#111" font-size="20.9" >2022</text>
<text transform="translate(193.40,560.70) scale(1,1.07)" text-anchor="end" font-weight="normal" font-style="normal" fill="#111" font-size="20.6" >1.0</text>
<text transform="translate(312.40,560.70) scale(1,1.07)" text-anchor="end" font-weight="normal" font-style="normal" fill="#111" font-size="20.6" >4.5</text>
<text transform="translate(431.40,560.70) scale(1,1.07)" text-anchor="end" font-weight="normal" font-style="normal" fill="#111" font-size="20.6" >7.0</text>
<text transform="translate(528.40,560.70) scale(1,1.07)" text-anchor="end" font-weight="normal" font-style="normal" fill="#111" font-size="20.6" >19.5</text>
<text transform="translate(625.90,560.70) scale(1,1.07)" text-anchor="end" font-weight="normal" font-style="normal" fill="#111" font-size="20.6" >62.0</text>
<text transform="translate(723.40,560.70) scale(1,1.07)" text-anchor="end" font-weight="normal" font-style="normal" fill="#111" font-size="20.6" >73.5</text>
<text transform="translate(821.40,560.70) scale(1,1.07)" text-anchor="end" font-weight="normal" font-style="normal" fill="#111" font-size="20.6" >95.5</text>
<text transform="translate(918.40,560.70) scale(1,1.07)" text-anchor="end" font-weight="normal" font-style="normal" fill="#111" font-size="20.6" >170.5</text>
<text transform="translate(1056.40,560.70) scale(1,1.07)" text-anchor="end" font-weight="normal" font-style="normal" fill="#111" font-size="20.6" >70.5</text>
<text transform="translate(1165.40,560.70) scale(1,1.07)" text-anchor="end" font-weight="normal" font-style="normal" fill="#111" font-size="20.6" >32.0</text>
<text transform="translate(1288.90,560.70) scale(1,1.07)" text-anchor="end" font-weight="normal" font-style="normal" fill="#111" font-size="20.6" >16.0</text>
<text transform="translate(1411.90,560.70) scale(1,1.07)" text-anchor="end" font-weight="normal" font-style="normal" fill="#111" font-size="20.6" >5.0</text>
<text transform="translate(1509.40,560.70) scale(1,1.07)" text-anchor="end" font-weight="bold" font-style="normal" fill="#111" font-size="20.9" >557.0</text>
<text transform="translate(1778.40,560.70) scale(1,1.07)" text-anchor="end" font-weight="bold" font-style="normal" fill="#111" font-size="20.9" >2</text>
<text transform="translate(96.40,587.71) scale(1,1.07)" text-anchor="end" font-weight="bold" font-style="normal" fill="#111" font-size="20.9" >2023</text>
<text transform="translate(193.40,587.71) scale(1,1.07)" text-anchor="end" font-weight="normal" font-style="normal" fill="#111" font-size="20.6" >0.0</text>
<text transform="translate(312.40,587.71) scale(1,1.07)" text-anchor="end" font-weight="normal" font-style="normal" fill="#111" font-size="20.6" >0.0</text>
<text transform="translate(431.40,587.71) scale(1,1.07)" text-anchor="end" font-weight="normal" font-style="normal" fill="#111" font-size="20.6" >62.5</text>
<text transform="translate(528.40,587.71) scale(1,1.07)" text-anchor="end" font-weight="normal" font-style="normal" fill="#111" font-size="20.6" >46.5</text>
<text transform="translate(625.90,587.71) scale(1,1.07)" text-anchor="end" font-weight="normal" font-style="normal" fill="#111" font-size="20.6" >26.0</text>
<text transform="translate(723.40,587.71) scale(1,1.07)" text-anchor="end" font-weight="normal" font-style="normal" fill="#111" font-size="20.6" >88.5</text>
<text transform="translate(821.40,587.71) scale(1,1.07)" text-anchor="end" font-weight="normal" font-style="normal" fill="#111" font-size="20.6" >65.5</text>
<text transform="translate(918.40,587.71) scale(1,1.07)" text-anchor="end" font-weight="normal" font-style="normal" fill="#111" font-size="20.6" >24.5</text>
<text transform="translate(1056.40,587.71) scale(1,1.07)" text-anchor="end" font-weight="normal" font-style="normal" fill="#111" font-size="20.6" >58.5</text>
<text transform="translate(1165.40,587.71) scale(1,1.07)" text-anchor="end" font-weight="normal" font-style="normal" fill="#111" font-size="20.6" >5.5</text>
<text transform="translate(1288.90,587.71) scale(1,1.07)" text-anchor="end" font-weight="normal" font-style="normal" fill="#111" font-size="20.6" >7.0</text>
<text transform="translate(1411.90,587.71) scale(1,1.07)" text-anchor="end" font-weight="normal" font-style="normal" fill="#111" font-size="20.6" >0.0</text>
<text transform="translate(1509.40,587.71) scale(1,1.07)" text-anchor="end" font-weight="normal" font-style="normal" fill="#111" font-size="20.6" >384.5</text>
<text transform="translate(1778.40,587.71) scale(1,1.07)" text-anchor="end" font-weight="bold" font-style="normal" fill="#111" font-size="20.9" >5</text>
<text transform="translate(96.40,614.72) scale(1,1.07)" text-anchor="end" font-weight="bold" font-style="normal" fill="#111" font-size="20.9" >2024</text>
<text transform="translate(193.40,614.72) scale(1,1.07)" text-anchor="end" font-weight="normal" font-style="normal" fill="#111" font-size="20.6" >9.5</text>
<text transform="translate(312.40,614.72) scale(1,1.07)" text-anchor="end" font-weight="normal" font-style="normal" fill="#111" font-size="20.6" >4.0</text>
<text transform="translate(431.40,614.72) scale(1,1.07)" text-anchor="end" font-weight="normal" font-style="normal" fill="#111" font-size="20.6" >7.5</text>
<text transform="translate(528.40,614.72) scale(1,1.07)" text-anchor="end" font-weight="normal" font-style="normal" fill="#111" font-size="20.6" >8.0</text>
<text transform="translate(625.90,614.72) scale(1,1.07)" text-anchor="end" font-weight="normal" font-style="normal" fill="#111" font-size="20.6" >35.5</text>
<text transform="translate(723.40,614.72) scale(1,1.07)" text-anchor="end" font-weight="normal" font-style="normal" fill="#111" font-size="20.6" >65.0</text>
<text transform="translate(821.40,614.72) scale(1,1.07)" text-anchor="end" font-weight="normal" font-style="normal" fill="#111" font-size="20.6" >112.5</text>
<text transform="translate(918.40,614.72) scale(1,1.07)" text-anchor="end" font-weight="normal" font-style="normal" fill="#111" font-size="20.6" >115.5</text>
<text transform="translate(1056.40,614.72) scale(1,1.07)" text-anchor="end" font-weight="normal" font-style="normal" fill="#111" font-size="20.6" >25.5</text>
<text transform="translate(1165.40,614.72) scale(1,1.07)" text-anchor="end" font-weight="normal" font-style="normal" fill="#111" font-size="20.6" >31.5</text>
<text transform="translate(1288.90,614.72) scale(1,1.07)" text-anchor="end" font-weight="normal" font-style="normal" fill="#111" font-size="20.6" >22.5</text>
<text transform="translate(1411.90,614.72) scale(1,1.07)" text-anchor="end" font-weight="normal" font-style="normal" fill="#111" font-size="20.6" >2.0</text>
<text transform="translate(1509.40,614.72) scale(1,1.07)" text-anchor="end" font-weight="normal" font-style="normal" fill="#111" font-size="20.6" >439.0</text>
<text transform="translate(1778.40,614.72) scale(1,1.07)" text-anchor="end" font-weight="bold" font-style="normal" fill="#111" font-size="20.9" >5</text>
<text transform="translate(96.40,641.73) scale(1,1.07)" text-anchor="end" font-weight="bold" font-style="normal" fill="#111" font-size="20.9" >2025</text>
<text transform="translate(193.40,641.73) scale(1,1.07)" text-anchor="end" font-weight="normal" font-style="normal" fill="#111" font-size="20.6" >0.5</text>
<text transform="translate(312.40,641.73) scale(1,1.07)" text-anchor="end" font-weight="normal" font-style="normal" fill="#111" font-size="20.6" >2.5</text>
<text transform="translate(431.40,641.73) scale(1,1.07)" text-anchor="end" font-weight="normal" font-style="normal" fill="#111" font-size="20.6" >31.5</text>
<text transform="translate(528.40,641.73) scale(1,1.07)" text-anchor="end" font-weight="normal" font-style="normal" fill="#111" font-size="20.6" >33.5</text>
<text transform="translate(625.90,641.73) scale(1,1.07)" text-anchor="end" font-weight="normal" font-style="normal" fill="#111" font-size="20.6" >20.5</text>
<text transform="translate(723.40,641.73) scale(1,1.07)" text-anchor="end" font-weight="normal" font-style="normal" fill="#111" font-size="20.6" >38.5</text>
<text transform="translate(821.40,641.73) scale(1,1.07)" text-anchor="end" font-weight="normal" font-style="normal" fill="#111" font-size="20.6" >91.0</text>
<text transform="translate(918.40,641.73) scale(1,1.07)" text-anchor="end" font-weight="normal" font-style="normal" fill="#111" font-size="20.6" >148.0</text>
<text transform="translate(1056.40,641.73) scale(1,1.07)" text-anchor="end" font-weight="normal" font-style="normal" fill="#111" font-size="20.6" >35.5</text>
<text transform="translate(1165.40,641.73) scale(1,1.07)" text-anchor="end" font-weight="normal" font-style="normal" fill="#111" font-size="20.6" >32.5</text>
<text transform="translate(1288.90,641.73) scale(1,1.07)" text-anchor="end" font-weight="normal" font-style="normal" fill="#111" font-size="20.6" >1.5</text>
<text transform="translate(1411.90,641.73) scale(1,1.07)" text-anchor="end" font-weight="normal" font-style="normal" fill="#111" font-size="20.6" >5.0</text>
<text transform="translate(1509.40,641.73) scale(1,1.07)" text-anchor="end" font-weight="normal" font-style="normal" fill="#111" font-size="20.6" >440.5</text>
<text transform="translate(96.40,668.74) scale(1,1.07)" text-anchor="end" font-weight="bold" font-style="normal" fill="#111" font-size="20.9" >2026</text>
<text transform="translate(193.40,668.74) scale(1,1.07)" text-anchor="end" font-weight="normal" font-style="normal" fill="#111" font-size="20.6" >0.0</text>
<text transform="translate(312.40,668.74) scale(1,1.07)" text-anchor="end" font-weight="normal" font-style="normal" fill="#111" font-size="20.6" >18.1</text>
<text transform="translate(431.40,668.74) scale(1,1.07)" text-anchor="end" font-weight="normal" font-style="normal" fill="#111" font-size="20.6" >62.5</text>
<text transform="translate(528.40,668.74) scale(1,1.07)" text-anchor="end" font-weight="normal" font-style="normal" fill="#111" font-size="20.6" >1.0</text>
<text transform="translate(1509.40,668.74) scale(1,1.07)" text-anchor="end" font-weight="normal" font-style="normal" fill="#111" font-size="20.6" >81.6</text>
<text transform="translate(1778.40,668.74) scale(1,1.07)" text-anchor="end" font-weight="bold" font-style="normal" fill="#111" font-size="20.9" >11</text>
<text transform="translate(1515.00,74.52) scale(1,1.07)" text-anchor="start" font-weight="normal" font-style="normal" fill="#111" font-size="20.6" >mls</text>
<text transform="translate(5.00,695.75) scale(1,1.07)" text-anchor="start" font-weight="bold" font-style="italic" fill="#111" font-size="20.9" >Avg</text>
<text transform="translate(193.40,695.75) scale(1,1.07)" text-anchor="end" font-weight="bold" font-style="italic" fill="#111" font-size="20.9" >27.9</text>
<text transform="translate(312.40,695.75) scale(1,1.07)" text-anchor="end" font-weight="bold" font-style="italic" fill="#111" font-size="20.9" >15.8</text>
<text transform="translate(431.40,695.75) scale(1,1.07)" text-anchor="end" font-weight="bold" font-style="italic" fill="#111" font-size="20.9" >27.7</text>
<text transform="translate(528.40,695.75) scale(1,1.07)" text-anchor="end" font-weight="bold" font-style="italic" fill="#111" font-size="20.9" >24.5</text>
<text transform="translate(625.90,695.75) scale(1,1.07)" text-anchor="end" font-weight="bold" font-style="italic" fill="#111" font-size="20.9" >52.4</text>
<text transform="translate(723.40,695.75) scale(1,1.07)" text-anchor="end" font-weight="bold" font-style="italic" fill="#111" font-size="20.9" >66.0</text>
<text transform="translate(821.40,695.75) scale(1,1.07)" text-anchor="end" font-weight="bold" font-style="italic" fill="#111" font-size="20.9" >92.9</text>
<text transform="translate(918.40,695.75) scale(1,1.07)" text-anchor="end" font-weight="bold" font-style="italic" fill="#111" font-size="20.9" >78.5</text>
<text transform="translate(1056.40,695.75) scale(1,1.07)" text-anchor="end" font-weight="bold" font-style="italic" fill="#111" font-size="20.9" >53.8</text>
<text transform="translate(1165.40,695.75) scale(1,1.07)" text-anchor="end" font-weight="bold" font-style="italic" fill="#111" font-size="20.9" >29.9</text>
<text transform="translate(1288.90,695.75) scale(1,1.07)" text-anchor="end" font-weight="bold" font-style="italic" fill="#111" font-size="20.9" >16.4</text>
<text transform="translate(1411.90,695.75) scale(1,1.07)" text-anchor="end" font-weight="bold" font-style="italic" fill="#111" font-size="20.9" >9.3</text>
<text transform="translate(1509.40,695.75) scale(1,1.07)" text-anchor="end" font-weight="bold" font-style="italic" fill="#111" font-size="20.9" >494.9</text>
</g>
<path d="M1515 78 L1517.2 76.4 L1519.4 78.0 L1521.6 76.4 L1523.8 78.0 L1526.0 76.4 L1528.2 78.0 L1530.4 76.4 L1532.6 78.0 L1534.8 76.4 L1537.0 78.0 L1539.2 76.4 L1541.4 78.0 L1543.6 76.4 L1545.8 78.0 L1548.0 76.4" stroke="#e02020" stroke-width="1.1" fill="none"/>
<path d="M1613 51.5 L1615.2 49.9 L1617.4 51.5 L1619.6 49.9 L1621.8 51.5 L1624.0 49.9 L1626.2 51.5 L1628.4 49.9 L1630.6 51.5 L1632.8 49.9 L1635.0 51.5 L1637.2 49.9 L1639.4 51.5 L1641.6 49.9 L1643.8 51.5 L1646.0 49.9 L1648.2 51.5 L1650.4 49.9 L1652.6 51.5 L1654.8 49.9 L1657.0 51.5 L1659.2 49.9 L1661.4 51.5 L1663.6 49.9 L1665.8 51.5 L1668.0 49.9 L1670.2 51.5 L1672.4 49.9 L1674.6 51.5 L1676.8 49.9 L1679.0 51.5 L1681.2 49.9 L1683.4 51.5 L1685.6 49.9 L1687.8 51.5 L1690.0 49.9 L1692.2 51.5 L1694.4 49.9 L1696.6 51.5 L1698.8 49.9 L1701.0 51.5 L1703.2 49.9 L1705.4 51.5 L1707.6 49.9 L1709.8 51.5 L1712.0 49.9 L1714.2 51.5 L1716.4 49.9 L1718.6 51.5 L1720.8 49.9 L1723.0 51.5 L1725.2 49.9 L1727.4 51.5 L1729.6 49.9 L1731.8 51.5 L1734.0 49.9 L1736.2 51.5" stroke="#e02020" stroke-width="1.1" fill="none"/>
<rect x="99" y="25.5" width="1413" height="27" fill="none" stroke="#0000f0" stroke-width="4"/>
<rect x="14.5" y="714.4" width="2326.0" height="1175.1999999999998" fill="#fff" stroke="#b0b0b0" stroke-width="2"/>
<text x="457.7" y="803.2" font-family='"Liberation Serif", serif' font-size="69" fill="#000" stroke="#000" stroke-width="0.5" textLength="1493" lengthAdjust="spacingAndGlyphs">Moondyne Run Vineyard Rainfall - Betty Stockman&#39;s Data</text>
<rect x="222.6" y="885.2" width="1935.8000000000002" height="959.0999999999999" fill="#fcef00"/>
<path d="M222.6 1802.60H2158.4 M222.6 1760.90H2158.4 M222.6 1719.20H2158.4 M222.6 1677.50H2158.4 M222.6 1635.80H2158.4 M222.6 1594.10H2158.4 M222.6 1552.40H2158.4 M222.6 1510.70H2158.4 M222.6 1469.00H2158.4 M222.6 1427.30H2158.4 M222.6 1385.60H2158.4 M222.6 1343.90H2158.4 M222.6 1302.20H2158.4 M222.6 1260.50H2158.4 M222.6 1218.80H2158.4 M222.6 1177.10H2158.4 M222.6 1135.40H2158.4 M222.6 1093.70H2158.4 M222.6 1052.00H2158.4 M222.6 1010.30H2158.4 M222.6 968.60H2158.4 M222.6 926.90H2158.4 M398.58 885.2V1844.3 M574.56 885.2V1844.3 M750.55 885.2V1844.3 M926.53 885.2V1844.3 M1102.51 885.2V1844.3 M1278.49 885.2V1844.3 M1454.47 885.2V1844.3 M1630.45 885.2V1844.3 M1806.44 885.2V1844.3 M1982.42 885.2V1844.3" stroke="#958a55" stroke-width="1.6" fill="none"/>
<path d="M214.6 1844.30H222.6 M214.6 1802.60H222.6 M214.6 1760.90H222.6 M214.6 1719.20H222.6 M214.6 1677.50H222.6 M214.6 1635.80H222.6 M214.6 1594.10H222.6 M214.6 1552.40H222.6 M214.6 1510.70H222.6 M214.6 1469.00H222.6 M214.6 1427.30H222.6 M214.6 1385.60H222.6 M214.6 1343.90H222.6 M214.6 1302.20H222.6 M214.6 1260.50H222.6 M214.6 1218.80H222.6 M214.6 1177.10H222.6 M214.6 1135.40H222.6 M214.6 1093.70H222.6 M214.6 1052.00H222.6 M214.6 1010.30H222.6 M214.6 968.60H222.6 M214.6 926.90H222.6 M214.6 885.20H222.6 M222.60 1844.3V1852.3 M398.58 1844.3V1852.3 M574.56 1844.3V1852.3 M750.55 1844.3V1852.3 M926.53 1844.3V1852.3 M1102.51 1844.3V1852.3 M1278.49 1844.3V1852.3 M1454.47 1844.3V1852.3 M1630.45 1844.3V1852.3 M1806.44 1844.3V1852.3 M1982.42 1844.3V1852.3 M2158.40 1844.3V1852.3" stroke="#808080" stroke-width="1.5" fill="none"/>
<rect x="222.6" y="885.2" width="1935.8000000000002" height="959.0999999999999" fill="none" stroke="#7a7a7a" stroke-width="2"/>
<g font-family='"Liberation Sans", sans-serif' font-size="18" fill="#262626" text-anchor="end">
<text x="206.9" y="1850.20">0.0</text>
<text x="206.9" y="1808.50">10.0</text>
<text x="206.9" y="1766.80">20.0</text>
<text x="206.9" y="1725.10">30.0</text>
<text x="206.9" y="1683.40">40.0</text>
<text x="206.9" y="1641.70">50.0</text>
<text x="206.9" y="1600.00">60.0</text>
<text x="206.9" y="1558.30">70.0</text>
<text x="206.9" y="1516.60">80.0</text>
<text x="206.9" y="1474.90">90.0</text>
<text x="206.9" y="1433.20">100.0</text>
<text x="206.9" y="1391.50">110.0</text>
<text x="206.9" y="1349.80">120.0</text>
<text x="206.9" y="1308.10">130.0</text>
<text x="206.9" y="1266.40">140.0</text>
<text x="206.9" y="1224.70">150.0</text>
<text x="206.9" y="1183.00">160.0</text>
<text x="206.9" y="1141.30">170.0</text>
<text x="206.9" y="1099.60">180.0</text>
<text x="206.9" y="1057.90">190.0</text>
<text x="206.9" y="1016.20">200.0</text>
<text x="206.9" y="974.50">210.0</text>
<text x="206.9" y="932.80">220.0</text>
<text x="206.9" y="891.10">230.0</text>
</g>
<g font-family='"Liberation Sans", sans-serif' font-size="17.6" fill="#262626" text-anchor="middle">
<text transform="translate(222.60,1876.4) scale(0.853,1)">JANUARY</text>
<text transform="translate(398.58,1876.4) scale(0.853,1)">FEBRUARY</text>
<text transform="translate(574.56,1876.4) scale(0.853,1)">MARCH</text>
<text transform="translate(750.55,1876.4) scale(0.853,1)">APRIL</text>
<text transform="translate(926.53,1876.4) scale(0.853,1)">MAY</text>
<text transform="translate(1102.51,1876.4) scale(0.853,1)">JUNE</text>
<text transform="translate(1278.49,1876.4) scale(0.853,1)">JULY</text>
<text transform="translate(1454.47,1876.4) scale(0.853,1)">AUGUST</text>
<text transform="translate(1630.45,1876.4) scale(0.853,1)">SEPTEMBER</text>
<text transform="translate(1806.44,1876.4) scale(0.853,1)">OCTOBER</text>
<text transform="translate(1982.42,1876.4) scale(0.853,1)">NOVEMBER</text>
<text transform="translate(2158.40,1876.4) scale(0.853,1)">DECEMBER</text>
</g>
<svg x="210.6" y="873.2" width="1959.8000000000002" height="983.0999999999999" viewBox="210.6 873.2 1959.8000000000002 983.0999999999999" overflow="hidden">
<path d="M1806.4 1715.0 L1982.4 1773.4 L2158.4 1794.7" stroke="#e0313d" stroke-width="4.0" fill="none" stroke-linejoin="round"/>
<rect x="1800.9" y="1709.5" width="11" height="11" fill="#e0313d"/>
<rect x="1976.9" y="1767.9" width="11" height="11" fill="#e0313d"/>
<rect x="2152.9" y="1789.2" width="11" height="11" fill="#e0313d"/>
<path d="M222.6 1748.0 L398.6 1829.7 L574.6 1717.1 L750.5 1752.6 L926.5 1389.8 L1102.5 1231.3 L1278.5 1702.5 L1454.5 1514.9 L1630.5 1596.2 L1806.4 1683.8 L1982.4 1817.2 L2158.4 1825.5" stroke="#937644" stroke-width="4.0" fill="none" stroke-linejoin="round"/>
<path d="M222.6 1741.4L229.2 1748.0L222.6 1754.6L216.0 1748.0Z" fill="#937644"/>
<path d="M398.6 1823.1L405.2 1829.7L398.6 1836.3L392.0 1829.7Z" fill="#937644"/>
<path d="M574.6 1710.5L581.2 1717.1L574.6 1723.7L568.0 1717.1Z" fill="#937644"/>
<path d="M750.5 1746.0L757.1 1752.6L750.5 1759.2L743.9 1752.6Z" fill="#937644"/>
<path d="M926.5 1383.2L933.1 1389.8L926.5 1396.4L919.9 1389.8Z" fill="#937644"/>
<path d="M1102.5 1224.7L1109.1 1231.3L1102.5 1237.9L1095.9 1231.3Z" fill="#937644"/>
<path d="M1278.5 1695.9L1285.1 1702.5L1278.5 1709.1L1271.9 1702.5Z" fill="#937644"/>
<path d="M1454.5 1508.3L1461.1 1514.9L1454.5 1521.5L1447.9 1514.9Z" fill="#937644"/>
<path d="M1630.5 1589.6L1637.1 1596.2L1630.5 1602.8L1623.9 1596.2Z" fill="#937644"/>
<path d="M1806.4 1677.2L1813.0 1683.8L1806.4 1690.4L1799.8 1683.8Z" fill="#937644"/>
<path d="M1982.4 1810.6L1989.0 1817.2L1982.4 1823.8L1975.8 1817.2Z" fill="#937644"/>
<path d="M2158.4 1818.9L2165.0 1825.5L2158.4 1832.1L2151.8 1825.5Z" fill="#937644"/>
<path d="M222.6 1433.6 L398.6 1781.8 L574.6 1844.3 L750.5 1750.5 L926.5 1752.6 L1102.5 1785.9 L1278.5 1644.1 L1454.5 1481.5 L1630.5 1606.6 L1806.4 1808.9 L1982.4 1788.0 L2158.4 1823.5" stroke="#6b6ba6" stroke-width="4.0" fill="none" stroke-linejoin="round"/>
<path d="M217.1 1428.1H228.1L222.6 1439.1Z" fill="#6b6ba6"/>
<path d="M393.1 1776.2H404.1L398.6 1787.2Z" fill="#6b6ba6"/>
<path d="M569.1 1838.8H580.1L574.6 1849.8Z" fill="#6b6ba6"/>
<path d="M745.0 1745.0H756.0L750.5 1756.0Z" fill="#6b6ba6"/>
<path d="M921.0 1747.1H932.0L926.5 1758.1Z" fill="#6b6ba6"/>
<path d="M1097.0 1780.4H1108.0L1102.5 1791.4Z" fill="#6b6ba6"/>
<path d="M1273.0 1638.6H1284.0L1278.5 1649.6Z" fill="#6b6ba6"/>
<path d="M1449.0 1476.0H1460.0L1454.5 1487.0Z" fill="#6b6ba6"/>
<path d="M1625.0 1601.1H1636.0L1630.5 1612.1Z" fill="#6b6ba6"/>
<path d="M1800.9 1803.4H1811.9L1806.4 1814.4Z" fill="#6b6ba6"/>
<path d="M1976.9 1782.5H1987.9L1982.4 1793.5Z" fill="#6b6ba6"/>
<path d="M2152.9 1818.0H2163.9L2158.4 1829.0Z" fill="#6b6ba6"/>
<path d="M222.6 1791.1 L398.6 1827.6 L574.6 1715.0 L750.5 1748.4 L926.5 1683.8 L1102.5 1646.2 L1278.5 1273.0 L1454.5 1485.7 L1630.5 1619.1 L1806.4 1706.7 L1982.4 1844.3 L2158.4 1712.9" stroke="#6e6ea8" stroke-width="4.0" fill="none" stroke-linejoin="round"/>
<path d="M217.1 1796.6H228.1L222.6 1785.6Z" fill="#6e6ea8"/>
<path d="M393.1 1833.1H404.1L398.6 1822.1Z" fill="#6e6ea8"/>
<path d="M569.1 1720.5H580.1L574.6 1709.5Z" fill="#6e6ea8"/>
<path d="M745.0 1753.9H756.0L750.5 1742.9Z" fill="#6e6ea8"/>
<path d="M921.0 1689.3H932.0L926.5 1678.3Z" fill="#6e6ea8"/>
<path d="M1097.0 1651.7H1108.0L1102.5 1640.7Z" fill="#6e6ea8"/>
<path d="M1273.0 1278.5H1284.0L1278.5 1267.5Z" fill="#6e6ea8"/>
<path d="M1449.0 1491.2H1460.0L1454.5 1480.2Z" fill="#6e6ea8"/>
<path d="M1625.0 1624.6H1636.0L1630.5 1613.6Z" fill="#6e6ea8"/>
<path d="M1800.9 1712.2H1811.9L1806.4 1701.2Z" fill="#6e6ea8"/>
<path d="M1976.9 1849.8H1987.9L1982.4 1838.8Z" fill="#6e6ea8"/>
<path d="M2152.9 1718.4H2163.9L2158.4 1707.4Z" fill="#6e6ea8"/>
<path d="M222.6 1844.3 L398.6 1756.7 L574.6 1787.0 L750.5 1528.4 L926.5 1694.2 L1102.5 1631.6 L1278.5 1275.1 L1454.5 1800.5 L1630.5 1583.7 L1806.4 1619.1 L1982.4 1727.5 L2158.4 1838.0" stroke="#f66f20" stroke-width="4.0" fill="none" stroke-linejoin="round"/>
<path d="M217.1 1838.8V1849.8L228.1 1844.3Z" fill="#f66f20"/>
<path d="M393.1 1751.2V1762.2L404.1 1756.7Z" fill="#f66f20"/>
<path d="M569.1 1781.5V1792.5L580.1 1787.0Z" fill="#f66f20"/>
<path d="M745.0 1522.9V1533.9L756.0 1528.4Z" fill="#f66f20"/>
<path d="M921.0 1688.7V1699.7L932.0 1694.2Z" fill="#f66f20"/>
<path d="M1097.0 1626.1V1637.1L1108.0 1631.6Z" fill="#f66f20"/>
<path d="M1273.0 1269.6V1280.6L1284.0 1275.1Z" fill="#f66f20"/>
<path d="M1449.0 1795.0V1806.0L1460.0 1800.5Z" fill="#f66f20"/>
<path d="M1625.0 1578.2V1589.2L1636.0 1583.7Z" fill="#f66f20"/>
<path d="M1800.9 1613.6V1624.6L1811.9 1619.1Z" fill="#f66f20"/>
<path d="M1976.9 1722.0V1733.0L1987.9 1727.5Z" fill="#f66f20"/>
<path d="M2152.9 1832.5V1843.5L2163.9 1838.0Z" fill="#f66f20"/>
<path d="M222.6 1754.6 L398.6 1802.6 L574.6 1810.9 L750.5 1773.4 L926.5 1719.2 L1102.5 1377.3 L1278.5 1385.6 L1454.5 1560.7 L1630.5 1554.5 L1806.4 1775.5 L1982.4 1742.1 L2158.4 1819.3" stroke="#6868a6" stroke-width="4.0" fill="none" stroke-linejoin="round"/>
<path d="M228.1 1749.1V1760.1L217.1 1754.6Z" fill="#6868a6"/>
<path d="M404.1 1797.1V1808.1L393.1 1802.6Z" fill="#6868a6"/>
<path d="M580.1 1805.4V1816.4L569.1 1810.9Z" fill="#6868a6"/>
<path d="M756.0 1767.9V1778.9L745.0 1773.4Z" fill="#6868a6"/>
<path d="M932.0 1713.7V1724.7L921.0 1719.2Z" fill="#6868a6"/>
<path d="M1108.0 1371.8V1382.8L1097.0 1377.3Z" fill="#6868a6"/>
<path d="M1284.0 1380.1V1391.1L1273.0 1385.6Z" fill="#6868a6"/>
<path d="M1460.0 1555.2V1566.2L1449.0 1560.7Z" fill="#6868a6"/>
<path d="M1636.0 1549.0V1560.0L1625.0 1554.5Z" fill="#6868a6"/>
<path d="M1811.9 1770.0V1781.0L1800.9 1775.5Z" fill="#6868a6"/>
<path d="M1987.9 1736.6V1747.6L1976.9 1742.1Z" fill="#6868a6"/>
<path d="M2163.9 1813.8V1824.8L2152.9 1819.3Z" fill="#6868a6"/>
<path d="M222.6 1844.3 L398.6 1844.3 L574.6 1742.1 L750.5 1838.0 L926.5 1612.9 L1102.5 1733.8 L1278.5 1519.0 L1454.5 1694.2 L1630.5 1758.8 L1806.4 1831.8 L1982.4 1813.0 L2158.4 1760.9" stroke="#dc2d3c" stroke-width="4.0" fill="none" stroke-linejoin="round"/>
<path d="M217.1 1838.8V1849.8L222.6 1844.3Z M228.1 1838.8V1849.8L222.6 1844.3Z" fill="#dc2d3c"/>
<path d="M393.1 1838.8V1849.8L398.6 1844.3Z M404.1 1838.8V1849.8L398.6 1844.3Z" fill="#dc2d3c"/>
<path d="M569.1 1736.6V1747.6L574.6 1742.1Z M580.1 1736.6V1747.6L574.6 1742.1Z" fill="#dc2d3c"/>
<path d="M745.0 1832.5V1843.5L750.5 1838.0Z M756.0 1832.5V1843.5L750.5 1838.0Z" fill="#dc2d3c"/>
<path d="M921.0 1607.4V1618.4L926.5 1612.9Z M932.0 1607.4V1618.4L926.5 1612.9Z" fill="#dc2d3c"/>
<path d="M1097.0 1728.3V1739.3L1102.5 1733.8Z M1108.0 1728.3V1739.3L1102.5 1733.8Z" fill="#dc2d3c"/>
<path d="M1273.0 1513.5V1524.5L1278.5 1519.0Z M1284.0 1513.5V1524.5L1278.5 1519.0Z" fill="#dc2d3c"/>
<path d="M1449.0 1688.7V1699.7L1454.5 1694.2Z M1460.0 1688.7V1699.7L1454.5 1694.2Z" fill="#dc2d3c"/>
<path d="M1625.0 1753.3V1764.3L1630.5 1758.8Z M1636.0 1753.3V1764.3L1630.5 1758.8Z" fill="#dc2d3c"/>
<path d="M1800.9 1826.3V1837.3L1806.4 1831.8Z M1811.9 1826.3V1837.3L1806.4 1831.8Z" fill="#dc2d3c"/>
<path d="M1976.9 1807.5V1818.5L1982.4 1813.0Z M1987.9 1807.5V1818.5L1982.4 1813.0Z" fill="#dc2d3c"/>
<path d="M2152.9 1755.4V1766.4L2158.4 1760.9Z M2163.9 1755.4V1766.4L2158.4 1760.9Z" fill="#dc2d3c"/>
<path d="M222.6 1625.4 L398.6 1844.3 L574.6 1833.9 L750.5 1777.6 L926.5 1627.5 L1102.5 1531.5 L1278.5 1343.9 L1454.5 1546.1 L1630.5 1483.6 L1806.4 1554.5 L1982.4 1738.0 L2158.4 1740.0" stroke="#6b6ba6" stroke-width="4.0" fill="none" stroke-linejoin="round"/>
<path d="M217.1 1619.9H228.1L222.6 1625.4Z M217.1 1630.9H228.1L222.6 1625.4Z" fill="#6b6ba6"/>
<path d="M393.1 1838.8H404.1L398.6 1844.3Z M393.1 1849.8H404.1L398.6 1844.3Z" fill="#6b6ba6"/>
<path d="M569.1 1828.4H580.1L574.6 1833.9Z M569.1 1839.4H580.1L574.6 1833.9Z" fill="#6b6ba6"/>
<path d="M745.0 1772.1H756.0L750.5 1777.6Z M745.0 1783.1H756.0L750.5 1777.6Z" fill="#6b6ba6"/>
<path d="M921.0 1622.0H932.0L926.5 1627.5Z M921.0 1633.0H932.0L926.5 1627.5Z" fill="#6b6ba6"/>
<path d="M1097.0 1526.0H1108.0L1102.5 1531.5Z M1097.0 1537.0H1108.0L1102.5 1531.5Z" fill="#6b6ba6"/>
<path d="M1273.0 1338.4H1284.0L1278.5 1343.9Z M1273.0 1349.4H1284.0L1278.5 1343.9Z" fill="#6b6ba6"/>
<path d="M1449.0 1540.6H1460.0L1454.5 1546.1Z M1449.0 1551.6H1460.0L1454.5 1546.1Z" fill="#6b6ba6"/>
<path d="M1625.0 1478.1H1636.0L1630.5 1483.6Z M1625.0 1489.1H1636.0L1630.5 1483.6Z" fill="#6b6ba6"/>
<path d="M1800.9 1549.0H1811.9L1806.4 1554.5Z M1800.9 1560.0H1811.9L1806.4 1554.5Z" fill="#6b6ba6"/>
<path d="M1976.9 1732.5H1987.9L1982.4 1738.0Z M1976.9 1743.5H1987.9L1982.4 1738.0Z" fill="#6b6ba6"/>
<path d="M2152.9 1734.5H2163.9L2158.4 1740.0Z M2152.9 1745.5H2163.9L2158.4 1740.0Z" fill="#6b6ba6"/>
<path d="M222.6 1838.0 L398.6 1727.5 L574.6 1844.3 L750.5 1785.9 L926.5 1746.3 L1102.5 1364.8 L1278.5 1775.5 L1454.5 1621.2 L1630.5 1533.6 L1806.4 1767.2 L1982.4 1612.9 L2158.4 1760.9" stroke="#99cc1f" stroke-width="4.0" fill="none" stroke-linejoin="round"/>
<circle cx="222.6" cy="1838.0" r="5.5" fill="#99cc1f"/>
<circle cx="398.6" cy="1727.5" r="5.5" fill="#99cc1f"/>
<circle cx="574.6" cy="1844.3" r="5.5" fill="#99cc1f"/>
<circle cx="750.5" cy="1785.9" r="5.5" fill="#99cc1f"/>
<circle cx="926.5" cy="1746.3" r="5.5" fill="#99cc1f"/>
<circle cx="1102.5" cy="1364.8" r="5.5" fill="#99cc1f"/>
<circle cx="1278.5" cy="1775.5" r="5.5" fill="#99cc1f"/>
<circle cx="1454.5" cy="1621.2" r="5.5" fill="#99cc1f"/>
<circle cx="1630.5" cy="1533.6" r="5.5" fill="#99cc1f"/>
<circle cx="1806.4" cy="1767.2" r="5.5" fill="#99cc1f"/>
<circle cx="1982.4" cy="1612.9" r="5.5" fill="#99cc1f"/>
<circle cx="2158.4" cy="1760.9" r="5.5" fill="#99cc1f"/>
<path d="M222.6 1685.8 L398.6 1836.0 L574.6 1635.8 L750.5 1783.8 L926.5 1523.2 L1102.5 1815.1 L1278.5 1454.4 L1454.5 1387.7 L1630.5 1302.2 L1806.4 1740.0 L1982.4 1838.0 L2158.4 1842.2" stroke="#2fc3c3" stroke-width="4.0" fill="none" stroke-linejoin="round"/>
<path d="M217.1 1685.8H228.1M222.6 1680.3V1691.3" stroke="#2fc3c3" stroke-width="2.2"/>
<path d="M393.1 1836.0H404.1M398.6 1830.5V1841.5" stroke="#2fc3c3" stroke-width="2.2"/>
<path d="M569.1 1635.8H580.1M574.6 1630.3V1641.3" stroke="#2fc3c3" stroke-width="2.2"/>
<path d="M745.0 1783.8H756.0M750.5 1778.3V1789.3" stroke="#2fc3c3" stroke-width="2.2"/>
<path d="M921.0 1523.2H932.0M926.5 1517.7V1528.7" stroke="#2fc3c3" stroke-width="2.2"/>
<path d="M1097.0 1815.1H1108.0M1102.5 1809.6V1820.6" stroke="#2fc3c3" stroke-width="2.2"/>
<path d="M1273.0 1454.4H1284.0M1278.5 1448.9V1459.9" stroke="#2fc3c3" stroke-width="2.2"/>
<path d="M1449.0 1387.7H1460.0M1454.5 1382.2V1393.2" stroke="#2fc3c3" stroke-width="2.2"/>
<path d="M1625.0 1302.2H1636.0M1630.5 1296.7V1307.7" stroke="#2fc3c3" stroke-width="2.2"/>
<path d="M1800.9 1740.0H1811.9M1806.4 1734.5V1745.5" stroke="#2fc3c3" stroke-width="2.2"/>
<path d="M1976.9 1838.0H1987.9M1982.4 1832.5V1843.5" stroke="#2fc3c3" stroke-width="2.2"/>
<path d="M2152.9 1842.2H2163.9M2158.4 1836.7V1847.7" stroke="#2fc3c3" stroke-width="2.2"/>
<path d="M222.6 1844.3 L398.6 1844.3 L574.6 1813.0 L750.5 1690.0 L926.5 1464.8 L1102.5 1587.8 L1278.5 1458.6 L1454.5 1587.8 L1630.5 1656.7 L1806.4 1621.2 L1982.4 1781.8 L2158.4 1844.3" stroke="#f7a21f" stroke-width="4.0" fill="none" stroke-linejoin="round"/>
<path d="M217.1 1838.8L228.1 1849.8M228.1 1838.8L217.1 1849.8" stroke="#f7a21f" stroke-width="2.2"/>
<path d="M393.1 1838.8L404.1 1849.8M404.1 1838.8L393.1 1849.8" stroke="#f7a21f" stroke-width="2.2"/>
<path d="M569.1 1807.5L580.1 1818.5M580.1 1807.5L569.1 1818.5" stroke="#f7a21f" stroke-width="2.2"/>
<path d="M745.0 1684.5L756.0 1695.5M756.0 1684.5L745.0 1695.5" stroke="#f7a21f" stroke-width="2.2"/>
<path d="M921.0 1459.3L932.0 1470.3M932.0 1459.3L921.0 1470.3" stroke="#f7a21f" stroke-width="2.2"/>
<path d="M1097.0 1582.3L1108.0 1593.3M1108.0 1582.3L1097.0 1593.3" stroke="#f7a21f" stroke-width="2.2"/>
<path d="M1273.0 1453.1L1284.0 1464.1M1284.0 1453.1L1273.0 1464.1" stroke="#f7a21f" stroke-width="2.2"/>
<path d="M1449.0 1582.3L1460.0 1593.3M1460.0 1582.3L1449.0 1593.3" stroke="#f7a21f" stroke-width="2.2"/>
<path d="M1625.0 1651.2L1636.0 1662.2M1636.0 1651.2L1625.0 1662.2" stroke="#f7a21f" stroke-width="2.2"/>
<path d="M1800.9 1615.7L1811.9 1626.7M1811.9 1615.7L1800.9 1626.7" stroke="#f7a21f" stroke-width="2.2"/>
<path d="M1976.9 1776.2L1987.9 1787.2M1987.9 1776.2L1976.9 1787.2" stroke="#f7a21f" stroke-width="2.2"/>
<path d="M2152.9 1838.8L2163.9 1849.8M2163.9 1838.8L2152.9 1849.8" stroke="#f7a21f" stroke-width="2.2"/>
<path d="M222.6 1840.1 L398.6 1740.0 L574.6 1742.1 L750.5 1640.0 L926.5 1702.5 L1102.5 1723.4 L1278.5 1489.8 L1454.5 1564.9 L1630.5 1788.0 L1806.4 1758.8 L1982.4 1806.8 L2158.4 1773.4" stroke="#9dc3f0" stroke-width="4.0" fill="none" stroke-linejoin="round"/>
<path d="M217.1 1840.1H228.1M222.6 1834.6V1845.6" stroke="#9dc3f0" stroke-width="2.2"/>
<path d="M393.1 1740.0H404.1M398.6 1734.5V1745.5" stroke="#9dc3f0" stroke-width="2.2"/>
<path d="M569.1 1742.1H580.1M574.6 1736.6V1747.6" stroke="#9dc3f0" stroke-width="2.2"/>
<path d="M745.0 1640.0H756.0M750.5 1634.5V1645.5" stroke="#9dc3f0" stroke-width="2.2"/>
<path d="M921.0 1702.5H932.0M926.5 1697.0V1708.0" stroke="#9dc3f0" stroke-width="2.2"/>
<path d="M1097.0 1723.4H1108.0M1102.5 1717.9V1728.9" stroke="#9dc3f0" stroke-width="2.2"/>
<path d="M1273.0 1489.8H1284.0M1278.5 1484.3V1495.3" stroke="#9dc3f0" stroke-width="2.2"/>
<path d="M1449.0 1564.9H1460.0M1454.5 1559.4V1570.4" stroke="#9dc3f0" stroke-width="2.2"/>
<path d="M1625.0 1788.0H1636.0M1630.5 1782.5V1793.5" stroke="#9dc3f0" stroke-width="2.2"/>
<path d="M1800.9 1758.8H1811.9M1806.4 1753.3V1764.3" stroke="#9dc3f0" stroke-width="2.2"/>
<path d="M1976.9 1806.8H1987.9M1982.4 1801.3V1812.3" stroke="#9dc3f0" stroke-width="2.2"/>
<path d="M2152.9 1773.4H2163.9M2158.4 1767.9V1778.9" stroke="#9dc3f0" stroke-width="2.2"/>
<path d="M222.6 1728.0 L398.6 1778.4 L574.6 1728.8 L750.5 1742.1 L926.5 1625.8 L1102.5 1569.1 L1278.5 1456.9 L1454.5 1517.0 L1630.5 1620.0 L1806.4 1719.6 L1982.4 1775.9 L2158.4 1805.5" stroke="#5c5c96" stroke-width="4.0" fill="none" stroke-linejoin="round"/>
<path d="M218.1 1723.5L227.1 1732.5M227.1 1723.5L218.1 1732.5M222.6 1723.5V1732.5" stroke="#5c5c96" stroke-width="2.2"/>
<path d="M394.1 1773.9L403.1 1782.9M403.1 1773.9L394.1 1782.9M398.6 1773.9V1782.9" stroke="#1a1a30" stroke-width="2.2"/>
<path d="M570.1 1724.3L579.1 1733.3M579.1 1724.3L570.1 1733.3M574.6 1724.3V1733.3" stroke="#1a1a30" stroke-width="2.2"/>
<path d="M746.0 1737.6L755.0 1746.6M755.0 1737.6L746.0 1746.6M750.5 1737.6V1746.6" stroke="#1a1a30" stroke-width="2.2"/>
<path d="M922.0 1621.3L931.0 1630.3M931.0 1621.3L922.0 1630.3M926.5 1621.3V1630.3" stroke="#1a1a30" stroke-width="2.2"/>
<path d="M1098.0 1564.6L1107.0 1573.6M1107.0 1564.6L1098.0 1573.6M1102.5 1564.6V1573.6" stroke="#1a1a30" stroke-width="2.2"/>
<path d="M1274.0 1452.4L1283.0 1461.4M1283.0 1452.4L1274.0 1461.4M1278.5 1452.4V1461.4" stroke="#1a1a30" stroke-width="2.2"/>
<path d="M1450.0 1512.5L1459.0 1521.5M1459.0 1512.5L1450.0 1521.5M1454.5 1512.5V1521.5" stroke="#1a1a30" stroke-width="2.2"/>
<path d="M1626.0 1615.5L1635.0 1624.5M1635.0 1615.5L1626.0 1624.5M1630.5 1615.5V1624.5" stroke="#1a1a30" stroke-width="2.2"/>
<path d="M1801.9 1715.1L1810.9 1724.1M1810.9 1715.1L1801.9 1724.1M1806.4 1715.1V1724.1" stroke="#1a1a30" stroke-width="2.2"/>
<path d="M1977.9 1771.4L1986.9 1780.4M1986.9 1771.4L1977.9 1780.4M1982.4 1771.4V1780.4" stroke="#1a1a30" stroke-width="2.2"/>
<path d="M2153.9 1801.0L2162.9 1810.0M2162.9 1801.0L2153.9 1810.0M2158.4 1801.0V1810.0" stroke="#1a1a30" stroke-width="2.2"/>
<path d="M222.6 1481.5 L398.6 1833.9 L574.6 1487.8 L750.5 1598.3 L926.5 1548.2 L1102.5 1650.4 L1278.5 1448.2 L1454.5 1510.7 L1630.5 1637.9 L1806.4 1723.4 L1982.4 1800.5 L2158.4 1752.6" stroke="#cc7878" stroke-width="4.0" fill="none" stroke-linejoin="round"/>
<path d="M217.1 1481.5H228.1" stroke="#cc7878" stroke-width="4"/>
<path d="M393.1 1833.9H404.1" stroke="#cc7878" stroke-width="4"/>
<path d="M569.1 1487.8H580.1" stroke="#cc7878" stroke-width="4"/>
<path d="M745.0 1598.3H756.0" stroke="#cc7878" stroke-width="4"/>
<path d="M921.0 1548.2H932.0" stroke="#cc7878" stroke-width="4"/>
<path d="M1097.0 1650.4H1108.0" stroke="#cc7878" stroke-width="4"/>
<path d="M1273.0 1448.2H1284.0" stroke="#cc7878" stroke-width="4"/>
<path d="M1449.0 1510.7H1460.0" stroke="#cc7878" stroke-width="4"/>
<path d="M1625.0 1637.9H1636.0" stroke="#cc7878" stroke-width="4"/>
<path d="M1800.9 1723.4H1811.9" stroke="#cc7878" stroke-width="4"/>
<path d="M1976.9 1800.5H1987.9" stroke="#cc7878" stroke-width="4"/>
<path d="M2152.9 1752.6H2163.9" stroke="#cc7878" stroke-width="4"/>
<path d="M222.6 1358.5 L398.6 1375.2 L574.6 1683.8 L750.5 1840.1 L926.5 1735.9 L1102.5 1742.1 L1278.5 1439.8 L1454.5 1391.9 L1630.5 1587.8 L1806.4 1758.8 L1982.4 1788.0 L2158.4 1758.8" stroke="#a3be84" stroke-width="4.0" fill="none" stroke-linejoin="round"/>
<path d="M222.6 1353.0V1364.0" stroke="#a3be84" stroke-width="3"/>
<path d="M398.6 1369.7V1380.7" stroke="#a3be84" stroke-width="3"/>
<path d="M574.6 1678.3V1689.3" stroke="#a3be84" stroke-width="3"/>
<path d="M750.5 1834.6V1845.6" stroke="#a3be84" stroke-width="3"/>
<path d="M926.5 1730.4V1741.4" stroke="#a3be84" stroke-width="3"/>
<path d="M1102.5 1736.6V1747.6" stroke="#a3be84" stroke-width="3"/>
<path d="M1278.5 1434.3V1445.3" stroke="#a3be84" stroke-width="3"/>
<path d="M1454.5 1386.4V1397.4" stroke="#a3be84" stroke-width="3"/>
<path d="M1630.5 1582.3V1593.3" stroke="#a3be84" stroke-width="3"/>
<path d="M1806.4 1753.3V1764.3" stroke="#a3be84" stroke-width="3"/>
<path d="M1982.4 1782.5V1793.5" stroke="#a3be84" stroke-width="3"/>
<path d="M2158.4 1753.3V1764.3" stroke="#a3be84" stroke-width="3"/>
<path d="M222.6 1450.2 L398.6 1781.8 L574.6 1844.3 L750.5 1815.1 L926.5 1612.9 L1102.5 1579.5 L1278.5 1352.2 L1454.5 1318.9 L1630.5 1752.6 L1806.4 1698.3 L1982.4 1829.7 L2158.4 1829.7" stroke="#9a88bc" stroke-width="4.0" fill="none" stroke-linejoin="round"/>
<rect x="217.1" y="1444.7" width="11" height="11" fill="#9a88bc"/>
<rect x="393.1" y="1776.2" width="11" height="11" fill="#9a88bc"/>
<rect x="569.1" y="1838.8" width="11" height="11" fill="#9a88bc"/>
<rect x="745.0" y="1809.6" width="11" height="11" fill="#9a88bc"/>
<rect x="921.0" y="1607.4" width="11" height="11" fill="#9a88bc"/>
<rect x="1097.0" y="1574.0" width="11" height="11" fill="#9a88bc"/>
<rect x="1273.0" y="1346.7" width="11" height="11" fill="#9a88bc"/>
<rect x="1449.0" y="1313.4" width="11" height="11" fill="#9a88bc"/>
<rect x="1625.0" y="1747.1" width="11" height="11" fill="#9a88bc"/>
<rect x="1800.9" y="1692.8" width="11" height="11" fill="#9a88bc"/>
<rect x="1976.9" y="1824.2" width="11" height="11" fill="#9a88bc"/>
<rect x="2152.9" y="1824.2" width="11" height="11" fill="#9a88bc"/>
<path d="M222.6 1838.0 L398.6 1844.3 L574.6 1804.7 L750.5 1744.2 L926.5 1806.8 L1102.5 1233.4 L1278.5 1610.8 L1454.5 1514.9 L1630.5 1754.6 L1806.4 1748.4 L1982.4 1800.5 L2158.4 1844.3" stroke="#6cb0cc" stroke-width="4.0" fill="none" stroke-linejoin="round"/>
<path d="M222.6 1831.4L229.2 1838.0L222.6 1844.6L216.0 1838.0Z" fill="#6cb0cc"/>
<path d="M398.6 1837.7L405.2 1844.3L398.6 1850.9L392.0 1844.3Z" fill="#6cb0cc"/>
<path d="M574.6 1798.1L581.2 1804.7L574.6 1811.3L568.0 1804.7Z" fill="#6cb0cc"/>
<path d="M750.5 1737.6L757.1 1744.2L750.5 1750.8L743.9 1744.2Z" fill="#6cb0cc"/>
<path d="M926.5 1800.2L933.1 1806.8L926.5 1813.4L919.9 1806.8Z" fill="#6cb0cc"/>
<path d="M1102.5 1226.8L1109.1 1233.4L1102.5 1240.0L1095.9 1233.4Z" fill="#6cb0cc"/>
<path d="M1278.5 1604.2L1285.1 1610.8L1278.5 1617.4L1271.9 1610.8Z" fill="#6cb0cc"/>
<path d="M1454.5 1508.3L1461.1 1514.9L1454.5 1521.5L1447.9 1514.9Z" fill="#6cb0cc"/>
<path d="M1630.5 1748.0L1637.1 1754.6L1630.5 1761.2L1623.9 1754.6Z" fill="#6cb0cc"/>
<path d="M1806.4 1741.8L1813.0 1748.4L1806.4 1755.0L1799.8 1748.4Z" fill="#6cb0cc"/>
<path d="M1982.4 1793.9L1989.0 1800.5L1982.4 1807.1L1975.8 1800.5Z" fill="#6cb0cc"/>
<path d="M2158.4 1837.7L2165.0 1844.3L2158.4 1850.9L2151.8 1844.3Z" fill="#6cb0cc"/>
<path d="M222.6 1844.3 L398.6 1660.8 L574.6 1792.2 L750.5 1813.0 L926.5 1581.6 L1102.5 1504.4 L1278.5 1621.2 L1454.5 1519.0 L1630.5 1640.0 L1806.4 1817.2 L1982.4 1606.6 L2158.4 1844.3" stroke="#f6986a" stroke-width="4.0" fill="none" stroke-linejoin="round"/>
<path d="M217.1 1838.8H228.1L222.6 1849.8Z" fill="#f6986a"/>
<path d="M393.1 1655.3H404.1L398.6 1666.3Z" fill="#f6986a"/>
<path d="M569.1 1786.7H580.1L574.6 1797.7Z" fill="#f6986a"/>
<path d="M745.0 1807.5H756.0L750.5 1818.5Z" fill="#f6986a"/>
<path d="M921.0 1576.1H932.0L926.5 1587.1Z" fill="#f6986a"/>
<path d="M1097.0 1498.9H1108.0L1102.5 1509.9Z" fill="#f6986a"/>
<path d="M1273.0 1615.7H1284.0L1278.5 1626.7Z" fill="#f6986a"/>
<path d="M1449.0 1513.5H1460.0L1454.5 1524.5Z" fill="#f6986a"/>
<path d="M1625.0 1634.5H1636.0L1630.5 1645.5Z" fill="#f6986a"/>
<path d="M1800.9 1811.7H1811.9L1806.4 1822.7Z" fill="#f6986a"/>
<path d="M1976.9 1601.1H1987.9L1982.4 1612.1Z" fill="#f6986a"/>
<path d="M2152.9 1838.8H2163.9L2158.4 1849.8Z" fill="#f6986a"/>
<path d="M222.6 1844.3 L398.6 1738.0 L574.6 1268.8 L750.5 1738.0 L926.5 1295.9 L1102.5 1660.8 L1278.5 949.8 L1454.5 1600.4 L1630.5 1656.7 L1806.4 1537.8 L1982.4 1844.3 L2158.4 1840.1" stroke="#a8b3d5" stroke-width="4.0" fill="none" stroke-linejoin="round"/>
<path d="M217.1 1849.8H228.1L222.6 1838.8Z" fill="#a8b3d5"/>
<path d="M393.1 1743.5H404.1L398.6 1732.5Z" fill="#a8b3d5"/>
<path d="M569.1 1274.3H580.1L574.6 1263.3Z" fill="#a8b3d5"/>
<path d="M745.0 1743.5H756.0L750.5 1732.5Z" fill="#a8b3d5"/>
<path d="M921.0 1301.4H932.0L926.5 1290.4Z" fill="#a8b3d5"/>
<path d="M1097.0 1666.3H1108.0L1102.5 1655.3Z" fill="#a8b3d5"/>
<path d="M1273.0 955.3H1284.0L1278.5 944.3Z" fill="#a8b3d5"/>
<path d="M1449.0 1605.9H1460.0L1454.5 1594.9Z" fill="#a8b3d5"/>
<path d="M1625.0 1662.2H1636.0L1630.5 1651.2Z" fill="#a8b3d5"/>
<path d="M1800.9 1543.3H1811.9L1806.4 1532.3Z" fill="#a8b3d5"/>
<path d="M1976.9 1849.8H1987.9L1982.4 1838.8Z" fill="#a8b3d5"/>
<path d="M2152.9 1845.6H2163.9L2158.4 1834.6Z" fill="#a8b3d5"/>
<path d="M222.6 1840.1 L398.6 1825.5 L574.6 1815.1 L750.5 1763.0 L926.5 1585.8 L1102.5 1537.8 L1278.5 1446.1 L1454.5 1133.3 L1630.5 1550.3 L1806.4 1710.9 L1982.4 1777.6 L2158.4 1823.5" stroke="#e2a6ae" stroke-width="4.0" fill="none" stroke-linejoin="round"/>
<path d="M217.1 1834.6V1845.6L228.1 1840.1Z" fill="#e2a6ae"/>
<path d="M393.1 1820.0V1831.0L404.1 1825.5Z" fill="#e2a6ae"/>
<path d="M569.1 1809.6V1820.6L580.1 1815.1Z" fill="#e2a6ae"/>
<path d="M745.0 1757.5V1768.5L756.0 1763.0Z" fill="#e2a6ae"/>
<path d="M921.0 1580.3V1591.3L932.0 1585.8Z" fill="#e2a6ae"/>
<path d="M1097.0 1532.3V1543.3L1108.0 1537.8Z" fill="#e2a6ae"/>
<path d="M1273.0 1440.6V1451.6L1284.0 1446.1Z" fill="#e2a6ae"/>
<path d="M1449.0 1127.8V1138.8L1460.0 1133.3Z" fill="#e2a6ae"/>
<path d="M1625.0 1544.8V1555.8L1636.0 1550.3Z" fill="#e2a6ae"/>
<path d="M1800.9 1705.4V1716.4L1811.9 1710.9Z" fill="#e2a6ae"/>
<path d="M1976.9 1772.1V1783.1L1987.9 1777.6Z" fill="#e2a6ae"/>
<path d="M2152.9 1818.0V1829.0L2163.9 1823.5Z" fill="#e2a6ae"/>
<path d="M222.6 1840.1 L398.6 1836.0 L574.6 1831.8 L750.5 1827.6 L926.5 1823.5 L1102.5 1819.3 L1278.5 1815.1 L1454.5 1810.9 L1630.5 1806.8 L1806.4 1802.6 L1982.4 1798.4 L2158.4 1794.3" stroke="#c3d3a6" stroke-width="4.0" fill="none" stroke-linejoin="round"/>
<path d="M228.1 1834.6V1845.6L217.1 1840.1Z" fill="#c3d3a6"/>
<path d="M404.1 1830.5V1841.5L393.1 1836.0Z" fill="#c3d3a6"/>
<path d="M580.1 1826.3V1837.3L569.1 1831.8Z" fill="#c3d3a6"/>
<path d="M756.0 1822.1V1833.1L745.0 1827.6Z" fill="#c3d3a6"/>
<path d="M932.0 1818.0V1829.0L921.0 1823.5Z" fill="#c3d3a6"/>
<path d="M1108.0 1813.8V1824.8L1097.0 1819.3Z" fill="#c3d3a6"/>
<path d="M1284.0 1809.6V1820.6L1273.0 1815.1Z" fill="#c3d3a6"/>
<path d="M1460.0 1805.4V1816.4L1449.0 1810.9Z" fill="#c3d3a6"/>
<path d="M1636.0 1801.3V1812.3L1625.0 1806.8Z" fill="#c3d3a6"/>
<path d="M1811.9 1797.1V1808.1L1800.9 1802.6Z" fill="#c3d3a6"/>
<path d="M1987.9 1792.9V1803.9L1976.9 1798.4Z" fill="#c3d3a6"/>
<path d="M2163.9 1788.8V1799.8L2152.9 1794.3Z" fill="#c3d3a6"/>
<path d="M222.6 1804.7 L398.6 1827.6 L574.6 1813.0 L750.5 1810.9 L926.5 1696.3 L1102.5 1573.2 L1278.5 1375.2 L1454.5 1362.7 L1630.5 1738.0 L1806.4 1712.9 L1982.4 1750.5 L2158.4 1836.0" stroke="#bab2d0" stroke-width="4.0" fill="none" stroke-linejoin="round"/>
<path d="M217.1 1799.2V1810.2L222.6 1804.7Z M228.1 1799.2V1810.2L222.6 1804.7Z" fill="#bab2d0"/>
<path d="M393.1 1822.1V1833.1L398.6 1827.6Z M404.1 1822.1V1833.1L398.6 1827.6Z" fill="#bab2d0"/>
<path d="M569.1 1807.5V1818.5L574.6 1813.0Z M580.1 1807.5V1818.5L574.6 1813.0Z" fill="#bab2d0"/>
<path d="M745.0 1805.4V1816.4L750.5 1810.9Z M756.0 1805.4V1816.4L750.5 1810.9Z" fill="#bab2d0"/>
<path d="M921.0 1690.8V1701.8L926.5 1696.3Z M932.0 1690.8V1701.8L926.5 1696.3Z" fill="#bab2d0"/>
<path d="M1097.0 1567.8V1578.8L1102.5 1573.2Z M1108.0 1567.8V1578.8L1102.5 1573.2Z" fill="#bab2d0"/>
<path d="M1273.0 1369.7V1380.7L1278.5 1375.2Z M1284.0 1369.7V1380.7L1278.5 1375.2Z" fill="#bab2d0"/>
<path d="M1449.0 1357.2V1368.2L1454.5 1362.7Z M1460.0 1357.2V1368.2L1454.5 1362.7Z" fill="#bab2d0"/>
<path d="M1625.0 1732.5V1743.5L1630.5 1738.0Z M1636.0 1732.5V1743.5L1630.5 1738.0Z" fill="#bab2d0"/>
<path d="M1800.9 1707.4V1718.4L1806.4 1712.9Z M1811.9 1707.4V1718.4L1806.4 1712.9Z" fill="#bab2d0"/>
<path d="M1976.9 1745.0V1756.0L1982.4 1750.5Z M1987.9 1745.0V1756.0L1982.4 1750.5Z" fill="#bab2d0"/>
<path d="M2152.9 1830.5V1841.5L2158.4 1836.0Z M2163.9 1830.5V1841.5L2158.4 1836.0Z" fill="#bab2d0"/>
<path d="M222.6 1842.2 L398.6 1833.9 L574.6 1712.9 L750.5 1704.6 L926.5 1758.8 L1102.5 1683.8 L1278.5 1464.8 L1454.5 1227.1 L1630.5 1696.3 L1806.4 1708.8 L1982.4 1838.0 L2158.4 1823.5" stroke="#c8102e" stroke-width="5.0" fill="none" stroke-linejoin="round"/>
<path d="M216.1 1835.7H229.1L222.6 1842.2Z M216.1 1848.7H229.1L222.6 1842.2Z" fill="#c8102e"/>
<path d="M392.1 1827.4H405.1L398.6 1833.9Z M392.1 1840.4H405.1L398.6 1833.9Z" fill="#c8102e"/>
<path d="M568.1 1706.4H581.1L574.6 1712.9Z M568.1 1719.4H581.1L574.6 1712.9Z" fill="#c8102e"/>
<path d="M744.0 1698.1H757.0L750.5 1704.6Z M744.0 1711.1H757.0L750.5 1704.6Z" fill="#c8102e"/>
<path d="M920.0 1752.3H933.0L926.5 1758.8Z M920.0 1765.3H933.0L926.5 1758.8Z" fill="#c8102e"/>
<path d="M1096.0 1677.3H1109.0L1102.5 1683.8Z M1096.0 1690.3H1109.0L1102.5 1683.8Z" fill="#c8102e"/>
<path d="M1272.0 1458.3H1285.0L1278.5 1464.8Z M1272.0 1471.3H1285.0L1278.5 1464.8Z" fill="#c8102e"/>
<path d="M1448.0 1220.6H1461.0L1454.5 1227.1Z M1448.0 1233.6H1461.0L1454.5 1227.1Z" fill="#c8102e"/>
<path d="M1624.0 1689.8H1637.0L1630.5 1696.3Z M1624.0 1702.8H1637.0L1630.5 1696.3Z" fill="#c8102e"/>
<path d="M1799.9 1702.3H1812.9L1806.4 1708.8Z M1799.9 1715.3H1812.9L1806.4 1708.8Z" fill="#c8102e"/>
<path d="M1975.9 1831.5H1988.9L1982.4 1838.0Z M1975.9 1844.5H1988.9L1982.4 1838.0Z" fill="#c8102e"/>
<path d="M2151.9 1817.0H2164.9L2158.4 1823.5Z M2151.9 1830.0H2164.9L2158.4 1823.5Z" fill="#c8102e"/>
<path d="M222.6 1844.3 L398.6 1768.8 L574.6 1583.7 L750.5 1840.1" stroke="#1b7fd3" stroke-width="5.0" fill="none" stroke-linejoin="round"/>
<circle cx="222.6" cy="1844.3" r="6.5" fill="#1b7fd3"/>
<circle cx="398.6" cy="1768.8" r="6.5" fill="#1b7fd3"/>
<circle cx="574.6" cy="1583.7" r="6.5" fill="#1b7fd3"/>
<circle cx="750.5" cy="1840.1" r="6.5" fill="#1b7fd3"/>
</svg>
<rect x="1593.2" y="894.3" width="556.3999999999999" height="386.20000000000005" fill="#fcef00" stroke="#a09c70" stroke-width="1.6"/>
<text x="1679.3" y="956.7" font-family='"Liberation Sans", sans-serif' font-weight="bold" font-size="33" fill="#000" textLength="383" lengthAdjust="spacingAndGlyphs">Moondyne Yearly Rainfall</text>
<rect x="1653.9" y="979.9" width="445.1999999999998" height="230.5000000000001" fill="#fff"/>
<path d="M1644.9 1210.40H2099.1 M1644.9 1181.59H2099.1 M1644.9 1152.78H2099.1 M1644.9 1123.96H2099.1 M1644.9 1095.15H2099.1 M1644.9 1066.34H2099.1 M1644.9 1037.53H2099.1 M1644.9 1008.71H2099.1 M1644.9 979.90H2099.1" stroke="#8c8c8c" stroke-width="1.5" fill="none"/>
<path d="M1653.9 979.9V1210.4 M1653.90 1210.4V1218.4 M1728.10 1210.4V1218.4 M1802.30 1210.4V1218.4 M1876.50 1210.4V1218.4 M1950.70 1210.4V1218.4 M2024.90 1210.4V1218.4 M2099.10 1210.4V1218.4" stroke="#8c8c8c" stroke-width="1.5" fill="none"/>
<g font-family='"Liberation Sans", sans-serif' font-size="18.6" fill="#111">
<text x="1638.5" y="1217.50" text-anchor="end">0</text>
<text x="1638.5" y="1188.69" text-anchor="end">100</text>
<text x="1638.5" y="1159.88" text-anchor="end">200</text>
<text x="1638.5" y="1131.06" text-anchor="end">300</text>
<text x="1638.5" y="1102.25" text-anchor="end">400</text>
<text x="1638.5" y="1073.44" text-anchor="end">500</text>
<text x="1638.5" y="1044.62" text-anchor="end">600</text>
<text x="1638.5" y="1015.81" text-anchor="end">700</text>
<text x="1638.5" y="987.00" text-anchor="end">800</text>
<text x="1653.90" y="1242.7" text-anchor="middle">2000</text>
<text x="1728.10" y="1242.7" text-anchor="middle">2005</text>
<text x="1802.30" y="1242.7" text-anchor="middle">2010</text>
<text x="1876.50" y="1242.7" text-anchor="middle">2015</text>
<text x="1950.70" y="1242.7" text-anchor="middle">2020</text>
<text x="2024.90" y="1242.7" text-anchor="middle">2025</text>
<text x="2099.10" y="1242.7" text-anchor="middle">2030</text>
</g>
<path d="M1713.3 1037.2 L1728.1 1049.9 L1742.9 1097.7 L1757.8 1066.8 L1772.6 1069.1 L1787.5 1068.4 L1802.3 1131.7 L1817.1 1038.7 L1832.0 1089.2 L1846.8 1052.4 L1861.7 1076.6 L1876.5 1102.5 L1891.3 1026.7 L1906.2 1025.9 L1921.0 1053.8 L1935.9 1100.8 L1950.7 1080.0 L1965.5 992.3 L1980.4 1049.9 L1995.2 1099.6 L2010.1 1083.9" stroke="#4a7ebb" stroke-width="4" fill="none" stroke-linejoin="round"/>
<path d="M1713.3 1031.8L1718.7 1037.2L1713.3 1042.6L1707.9 1037.2Z" fill="#4a7ebb"/>
<path d="M1728.1 1044.5L1733.5 1049.9L1728.1 1055.3L1722.7 1049.9Z" fill="#4a7ebb"/>
<path d="M1742.9 1092.3L1748.3 1097.7L1742.9 1103.1L1737.5 1097.7Z" fill="#4a7ebb"/>
<path d="M1757.8 1061.4L1763.2 1066.8L1757.8 1072.2L1752.4 1066.8Z" fill="#4a7ebb"/>
<path d="M1772.6 1063.7L1778.0 1069.1L1772.6 1074.5L1767.2 1069.1Z" fill="#4a7ebb"/>
<path d="M1787.5 1063.0L1792.9 1068.4L1787.5 1073.8L1782.1 1068.4Z" fill="#4a7ebb"/>
<path d="M1802.3 1126.3L1807.7 1131.7L1802.3 1137.1L1796.9 1131.7Z" fill="#4a7ebb"/>
<path d="M1817.1 1033.3L1822.5 1038.7L1817.1 1044.1L1811.7 1038.7Z" fill="#4a7ebb"/>
<path d="M1832.0 1083.8L1837.4 1089.2L1832.0 1094.6L1826.6 1089.2Z" fill="#4a7ebb"/>
<path d="M1846.8 1047.0L1852.2 1052.4L1846.8 1057.8L1841.4 1052.4Z" fill="#4a7ebb"/>
<path d="M1861.7 1071.2L1867.1 1076.6L1861.7 1082.0L1856.3 1076.6Z" fill="#4a7ebb"/>
<path d="M1876.5 1097.1L1881.9 1102.5L1876.5 1107.9L1871.1 1102.5Z" fill="#4a7ebb"/>
<path d="M1891.3 1021.3L1896.7 1026.7L1891.3 1032.1L1885.9 1026.7Z" fill="#4a7ebb"/>
<path d="M1906.2 1020.5L1911.6 1025.9L1906.2 1031.3L1900.8 1025.9Z" fill="#4a7ebb"/>
<path d="M1921.0 1048.4L1926.4 1053.8L1921.0 1059.2L1915.6 1053.8Z" fill="#4a7ebb"/>
<path d="M1935.9 1095.4L1941.3 1100.8L1935.9 1106.2L1930.5 1100.8Z" fill="#4a7ebb"/>
<path d="M1950.7 1074.6L1956.1 1080.0L1950.7 1085.4L1945.3 1080.0Z" fill="#4a7ebb"/>
<path d="M1965.5 986.9L1970.9 992.3L1965.5 997.7L1960.1 992.3Z" fill="#4a7ebb"/>
<path d="M1980.4 1044.5L1985.8 1049.9L1980.4 1055.3L1975.0 1049.9Z" fill="#4a7ebb"/>
<path d="M1995.2 1094.2L2000.6 1099.6L1995.2 1105.0L1989.8 1099.6Z" fill="#4a7ebb"/>
<path d="M2010.1 1078.5L2015.5 1083.9L2010.1 1089.3L2004.7 1083.9Z" fill="#4a7ebb"/>
<g font-family='"Liberation Sans", sans-serif' font-size="18.2" fill="#111">
<path d="M2203.6 915.5H2249" stroke="#e0313d" stroke-width="3.4"/>
<rect x="2219.9" y="909.0" width="13" height="13" fill="#e0313d"/>
<text x="2255.1" y="922.4">2004</text>
<path d="M2203.6 951.2H2249" stroke="#937644" stroke-width="3.4"/>
<path d="M2226.4 943.4L2234.2 951.2L2226.4 959.0L2218.6 951.2Z" fill="#937644"/>
<text x="2255.1" y="958.1">2005</text>
<path d="M2203.6 987.0H2249" stroke="#6b6ba6" stroke-width="3.4"/>
<path d="M2219.9 980.5H2232.9L2226.4 993.5Z" fill="#6b6ba6"/>
<text x="2255.1" y="993.9">2006</text>
<path d="M2203.6 1022.7H2249" stroke="#6e6ea8" stroke-width="3.4"/>
<path d="M2219.9 1029.2H2232.9L2226.4 1016.2Z" fill="#6e6ea8"/>
<text x="2255.1" y="1029.6">2007</text>
<path d="M2203.6 1058.5H2249" stroke="#f66f20" stroke-width="3.4"/>
<path d="M2219.9 1052.0V1065.0L2232.9 1058.5Z" fill="#f66f20"/>
<text x="2255.1" y="1065.4">2008</text>
<path d="M2203.6 1094.2H2249" stroke="#6868a6" stroke-width="3.4"/>
<path d="M2232.9 1087.7V1100.7L2219.9 1094.2Z" fill="#6868a6"/>
<text x="2255.1" y="1101.1">2009</text>
<path d="M2203.6 1129.9H2249" stroke="#dc2d3c" stroke-width="3.4"/>
<path d="M2219.9 1123.4V1136.4L2226.4 1129.9Z M2232.9 1123.4V1136.4L2226.4 1129.9Z" fill="#dc2d3c"/>
<text x="2255.1" y="1136.8">2010</text>
<path d="M2203.6 1165.7H2249" stroke="#6b6ba6" stroke-width="3.4"/>
<path d="M2219.9 1159.2H2232.9L2226.4 1165.7Z M2219.9 1172.2H2232.9L2226.4 1165.7Z" fill="#6b6ba6"/>
<text x="2255.1" y="1172.6">2011</text>
<path d="M2203.6 1201.4H2249" stroke="#99cc1f" stroke-width="3.4"/>
<circle cx="2226.4" cy="1201.4" r="6.5" fill="#99cc1f"/>
<text x="2255.1" y="1208.3">2012</text>
<path d="M2203.6 1237.2H2249" stroke="#2fc3c3" stroke-width="3.4"/>
<path d="M2219.9 1237.2H2232.9M2226.4 1230.7V1243.7" stroke="#2fc3c3" stroke-width="2.2"/>
<text x="2255.1" y="1244.1">2013</text>
<path d="M2203.6 1272.9H2249" stroke="#f7a21f" stroke-width="3.4"/>
<path d="M2219.9 1266.4L2232.9 1279.4M2232.9 1266.4L2219.9 1279.4" stroke="#f7a21f" stroke-width="2.2"/>
<text x="2255.1" y="1279.8">2014</text>
<path d="M2203.6 1308.6H2249" stroke="#9dc3f0" stroke-width="3.4"/>
<path d="M2219.9 1308.6H2232.9M2226.4 1302.1V1315.1" stroke="#9dc3f0" stroke-width="2.2"/>
<text x="2255.1" y="1315.5">2015</text>
<path d="M2203.6 1344.4H2249" stroke="#5c5c96" stroke-width="3.4"/>
<path d="M2219.9 1337.9L2232.9 1350.9M2232.9 1337.9L2219.9 1350.9M2226.4 1337.9V1350.9" stroke="#5c5c96" stroke-width="2.2"/>
<text x="2255.1" y="1351.3">Avg</text>
<path d="M2203.6 1380.1H2249" stroke="#cc7878" stroke-width="3.4"/>
<path d="M2219.9 1380.1H2232.9" stroke="#cc7878" stroke-width="4"/>
<text x="2255.1" y="1387.0">2016</text>
<path d="M2203.6 1415.9H2249" stroke="#a3be84" stroke-width="3.4"/>
<path d="M2226.4 1409.4V1422.4" stroke="#a3be84" stroke-width="3"/>
<text x="2255.1" y="1422.8">2017</text>
<path d="M2203.6 1451.6H2249" stroke="#9a88bc" stroke-width="3.4"/>
<rect x="2219.9" y="1445.1" width="13" height="13" fill="#9a88bc"/>
<text x="2255.1" y="1458.5">2018</text>
<path d="M2203.6 1487.3H2249" stroke="#6cb0cc" stroke-width="3.4"/>
<path d="M2226.4 1479.5L2234.2 1487.3L2226.4 1495.1L2218.6 1487.3Z" fill="#6cb0cc"/>
<text x="2255.1" y="1494.2">2019</text>
<path d="M2203.6 1523.1H2249" stroke="#f6986a" stroke-width="3.4"/>
<path d="M2219.9 1516.6H2232.9L2226.4 1529.6Z" fill="#f6986a"/>
<text x="2255.1" y="1530.0">2020</text>
<path d="M2203.6 1558.8H2249" stroke="#a8b3d5" stroke-width="3.4"/>
<path d="M2219.9 1565.3H2232.9L2226.4 1552.3Z" fill="#a8b3d5"/>
<text x="2255.1" y="1565.7">2021</text>
<path d="M2203.6 1594.6H2249" stroke="#e2a6ae" stroke-width="3.4"/>
<path d="M2219.9 1588.1V1601.1L2232.9 1594.6Z" fill="#e2a6ae"/>
<text x="2255.1" y="1601.5">2022</text>
<path d="M2203.6 1630.3H2249" stroke="#c3d3a6" stroke-width="3.4"/>
<path d="M2232.9 1623.8V1636.8L2219.9 1630.3Z" fill="#c3d3a6"/>
<text x="2255.1" y="1637.2">2023</text>
<path d="M2203.6 1666.0H2249" stroke="#bab2d0" stroke-width="3.4"/>
<path d="M2219.9 1659.5V1672.5L2226.4 1666.0Z M2232.9 1659.5V1672.5L2226.4 1666.0Z" fill="#bab2d0"/>
<text x="2255.1" y="1672.9">2024</text>
<path d="M2203.6 1701.8H2249" stroke="#c8102e" stroke-width="3.4"/>
<path d="M2219.9 1695.3H2232.9L2226.4 1701.8Z M2219.9 1708.3H2232.9L2226.4 1701.8Z" fill="#c8102e"/>
<text x="2255.1" y="1708.7">2025</text>
<path d="M2203.6 1737.5H2249" stroke="#1b7fd3" stroke-width="3.4"/>
<circle cx="2226.4" cy="1737.5" r="6.5" fill="#1b7fd3"/>
<text x="2255.1" y="1744.4">2026</text>
</g>
</svg>
</body></html>
